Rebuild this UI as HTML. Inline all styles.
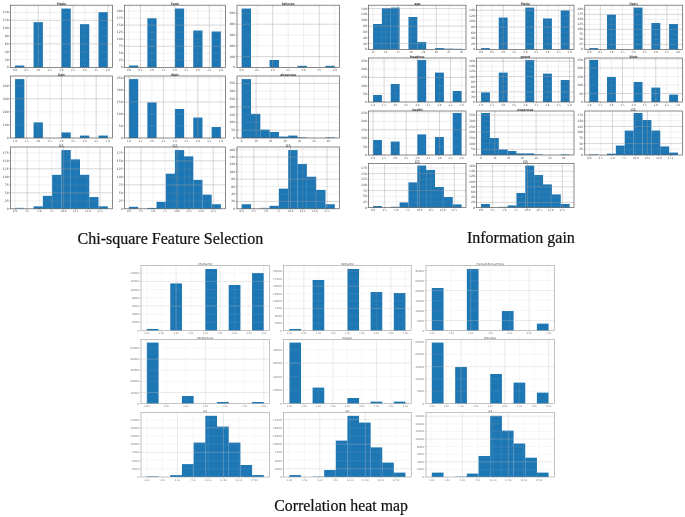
<!DOCTYPE html>
<html lang="en">
<head>
<meta charset="utf-8">
<title>Feature selection histograms</title>
<style>
html,body{margin:0;padding:0;background:#fff;}
body{width:685px;height:517px;overflow:hidden;}
svg{display:block;}
.tk{font-family:"DejaVu Sans","Liberation Sans",sans-serif;}
.tt{font-family:"DejaVu Sans","Liberation Sans",sans-serif;}
.cap{font-family:"Liberation Serif","Times New Roman",serif;font-size:16px;fill:#111;stroke:#111;stroke-width:0.22px;}
</style>
</head>
<body>
<svg width="685" height="517" viewBox="0 0 685 517">
<defs><filter id="soft" x="-2%" y="-2%" width="104%" height="104%"><feGaussianBlur stdDeviation="0.45"/></filter><filter id="softer" x="-2%" y="-2%" width="104%" height="104%"><feGaussianBlur stdDeviation="0.65"/></filter></defs>
<rect width="685" height="517" fill="#ffffff"/>
<g filter="url(#soft)" font-size="3.0" fill="#444">
<g>
<rect x="15.04" y="65.53" width="9.32" height="1.87" fill="#1f77b4"/>
<rect x="33.58" y="22.18" width="9.32" height="45.22" fill="#1f77b4"/>
<rect x="61.4" y="8.56" width="9.32" height="58.84" fill="#1f77b4"/>
<rect x="79.95" y="24.17" width="9.32" height="43.23" fill="#1f77b4"/>
<rect x="98.49" y="12.17" width="9.32" height="55.23" fill="#1f77b4"/>
<path d="M15.04 5.2V67.4M26.63 5.2V67.4M49.81 5.2V67.4M61.4 5.2V67.4M84.58 5.2V67.4M96.17 5.2V67.4M10.4 59.55H112.4M10.4 51.7H112.4M10.4 36H112.4M10.4 28.15H112.4M10.4 12.45H112.4" stroke="#9a9a9a" stroke-width="0.5" opacity="0.3" fill="none"/>
<path d="M38.22 5.2V67.4M72.99 5.2V67.4M107.76 5.2V67.4M10.4 43.85H112.4M10.4 20.3H112.4" stroke="#9a9a9a" stroke-width="0.5" opacity="0.8" fill="none"/>
<rect x="10.4" y="5.2" width="102" height="62.2" fill="none" stroke="#585858" stroke-width="0.7"/>
<path d="M15.04 67.4v1.2M26.63 67.4v1.2M38.22 67.4v1.2M49.81 67.4v1.2M61.4 67.4v1.2M72.99 67.4v1.2M84.58 67.4v1.2M96.17 67.4v1.2M107.76 67.4v1.2M10.4 67.4h-1.2M10.4 59.55h-1.2M10.4 51.7h-1.2M10.4 43.85h-1.2M10.4 36h-1.2M10.4 28.15h-1.2M10.4 20.3h-1.2M10.4 12.45h-1.2" stroke="#585858" stroke-width="0.4" fill="none"/>
<text class="tt" x="61.4" y="4.9" text-anchor="middle" font-size="3.4" fill="#222" stroke="#222" stroke-width="0.06">Medu</text>
<text class="tk" x="15.04" y="70.9" text-anchor="middle" font-size="2.55">0.0</text>
<text class="tk" x="26.63" y="70.9" text-anchor="middle" font-size="2.55">0.5</text>
<text class="tk" x="38.22" y="70.9" text-anchor="middle" font-size="2.55">1.0</text>
<text class="tk" x="49.81" y="70.9" text-anchor="middle" font-size="2.55">1.5</text>
<text class="tk" x="61.4" y="70.9" text-anchor="middle" font-size="2.55">2.0</text>
<text class="tk" x="72.99" y="70.9" text-anchor="middle" font-size="2.55">2.5</text>
<text class="tk" x="84.58" y="70.9" text-anchor="middle" font-size="2.55">3.0</text>
<text class="tk" x="96.17" y="70.9" text-anchor="middle" font-size="2.55">3.5</text>
<text class="tk" x="107.76" y="70.9" text-anchor="middle" font-size="2.55">4.0</text>
<text class="tk" x="8.6" y="68.4" text-anchor="end">0</text>
<text class="tk" x="8.6" y="60.55" text-anchor="end">20</text>
<text class="tk" x="8.6" y="52.7" text-anchor="end">40</text>
<text class="tk" x="8.6" y="44.85" text-anchor="end">60</text>
<text class="tk" x="8.6" y="37" text-anchor="end">80</text>
<text class="tk" x="8.6" y="29.15" text-anchor="end">100</text>
<text class="tk" x="8.6" y="21.3" text-anchor="end">120</text>
<text class="tk" x="8.6" y="13.45" text-anchor="end">140</text>
</g>
<g>
<rect x="128.99" y="65.53" width="9.23" height="1.87" fill="#1f77b4"/>
<rect x="147.35" y="18.26" width="9.23" height="49.14" fill="#1f77b4"/>
<rect x="174.9" y="8.56" width="9.23" height="58.84" fill="#1f77b4"/>
<rect x="193.26" y="30.52" width="9.23" height="36.88" fill="#1f77b4"/>
<rect x="211.63" y="31.51" width="9.23" height="35.89" fill="#1f77b4"/>
<path d="M128.99 5.2V67.4M151.95 5.2V67.4M163.42 5.2V67.4M186.38 5.2V67.4M197.85 5.2V67.4M220.81 5.2V67.4M124.4 60.35H225.4M124.4 53.3H225.4M124.4 39.2H225.4M124.4 32.15H225.4M124.4 18.05H225.4M124.4 11H225.4" stroke="#9a9a9a" stroke-width="0.5" opacity="0.3" fill="none"/>
<path d="M140.47 5.2V67.4M174.9 5.2V67.4M209.33 5.2V67.4M124.4 46.25H225.4M124.4 25.1H225.4" stroke="#9a9a9a" stroke-width="0.5" opacity="0.8" fill="none"/>
<rect x="124.4" y="5.2" width="101" height="62.2" fill="none" stroke="#585858" stroke-width="0.7"/>
<path d="M128.99 67.4v1.2M140.47 67.4v1.2M151.95 67.4v1.2M163.42 67.4v1.2M174.9 67.4v1.2M186.38 67.4v1.2M197.85 67.4v1.2M209.33 67.4v1.2M220.81 67.4v1.2M124.4 67.4h-1.2M124.4 60.35h-1.2M124.4 53.3h-1.2M124.4 46.25h-1.2M124.4 39.2h-1.2M124.4 32.15h-1.2M124.4 25.1h-1.2M124.4 18.05h-1.2M124.4 11h-1.2" stroke="#585858" stroke-width="0.4" fill="none"/>
<text class="tt" x="174.9" y="4.9" text-anchor="middle" font-size="3.4" fill="#222" stroke="#222" stroke-width="0.06">Fedu</text>
<text class="tk" x="128.99" y="70.9" text-anchor="middle" font-size="2.55">0.0</text>
<text class="tk" x="140.47" y="70.9" text-anchor="middle" font-size="2.55">0.5</text>
<text class="tk" x="151.95" y="70.9" text-anchor="middle" font-size="2.55">1.0</text>
<text class="tk" x="163.42" y="70.9" text-anchor="middle" font-size="2.55">1.5</text>
<text class="tk" x="174.9" y="70.9" text-anchor="middle" font-size="2.55">2.0</text>
<text class="tk" x="186.38" y="70.9" text-anchor="middle" font-size="2.55">2.5</text>
<text class="tk" x="197.85" y="70.9" text-anchor="middle" font-size="2.55">3.0</text>
<text class="tk" x="209.33" y="70.9" text-anchor="middle" font-size="2.55">3.5</text>
<text class="tk" x="220.81" y="70.9" text-anchor="middle" font-size="2.55">4.0</text>
<text class="tk" x="122.6" y="68.4" text-anchor="end">0</text>
<text class="tk" x="122.6" y="61.35" text-anchor="end">25</text>
<text class="tk" x="122.6" y="54.3" text-anchor="end">50</text>
<text class="tk" x="122.6" y="47.25" text-anchor="end">75</text>
<text class="tk" x="122.6" y="40.2" text-anchor="end">100</text>
<text class="tk" x="122.6" y="33.15" text-anchor="end">125</text>
<text class="tk" x="122.6" y="26.1" text-anchor="end">150</text>
<text class="tk" x="122.6" y="19.05" text-anchor="end">175</text>
<text class="tk" x="122.6" y="12" text-anchor="end">200</text>
</g>
<g>
<rect x="241.65" y="8.56" width="9.36" height="58.84" fill="#1f77b4"/>
<rect x="269.58" y="60" width="9.36" height="7.4" fill="#1f77b4"/>
<rect x="297.51" y="65.84" width="9.36" height="1.56" fill="#1f77b4"/>
<rect x="325.44" y="65.84" width="9.36" height="1.56" fill="#1f77b4"/>
<path d="M241.65 5.2V67.4M257.17 5.2V67.4M288.2 5.2V67.4M303.72 5.2V67.4M334.75 5.2V67.4M237 45.8H339.4M237 35H339.4M237 13.4H339.4" stroke="#9a9a9a" stroke-width="0.5" opacity="0.3" fill="none"/>
<path d="M272.68 5.2V67.4M319.23 5.2V67.4M237 56.6H339.4M237 24.2H339.4" stroke="#9a9a9a" stroke-width="0.5" opacity="0.8" fill="none"/>
<rect x="237" y="5.2" width="102.4" height="62.2" fill="none" stroke="#585858" stroke-width="0.7"/>
<path d="M241.65 67.4v1.2M257.17 67.4v1.2M272.68 67.4v1.2M288.2 67.4v1.2M303.72 67.4v1.2M319.23 67.4v1.2M334.75 67.4v1.2M237 67.4h-1.2M237 56.6h-1.2M237 45.8h-1.2M237 35h-1.2M237 24.2h-1.2M237 13.4h-1.2" stroke="#585858" stroke-width="0.4" fill="none"/>
<text class="tt" x="288.2" y="4.9" text-anchor="middle" font-size="3.4" fill="#222" stroke="#222" stroke-width="0.06">failures</text>
<text class="tk" x="241.65" y="70.9" text-anchor="middle" font-size="2.55">0.0</text>
<text class="tk" x="257.17" y="70.9" text-anchor="middle" font-size="2.55">0.5</text>
<text class="tk" x="272.68" y="70.9" text-anchor="middle" font-size="2.55">1.0</text>
<text class="tk" x="288.2" y="70.9" text-anchor="middle" font-size="2.55">1.5</text>
<text class="tk" x="303.72" y="70.9" text-anchor="middle" font-size="2.55">2.0</text>
<text class="tk" x="319.23" y="70.9" text-anchor="middle" font-size="2.55">2.5</text>
<text class="tk" x="334.75" y="70.9" text-anchor="middle" font-size="2.55">3.0</text>
<text class="tk" x="235.2" y="68.4" text-anchor="end">0</text>
<text class="tk" x="235.2" y="57.6" text-anchor="end">100</text>
<text class="tk" x="235.2" y="46.8" text-anchor="end">200</text>
<text class="tk" x="235.2" y="36" text-anchor="end">300</text>
<text class="tk" x="235.2" y="25.2" text-anchor="end">400</text>
<text class="tk" x="235.2" y="14.4" text-anchor="end">500</text>
</g>
<g>
<rect x="15.04" y="79.1" width="9.32" height="58.9" fill="#1f77b4"/>
<rect x="33.58" y="122.38" width="9.32" height="15.62" fill="#1f77b4"/>
<rect x="61.4" y="132.42" width="9.32" height="5.58" fill="#1f77b4"/>
<rect x="79.95" y="135.58" width="9.32" height="2.42" fill="#1f77b4"/>
<rect x="98.49" y="135.58" width="9.32" height="2.42" fill="#1f77b4"/>
<path d="M15.04 76V138M38.22 76V138M49.81 76V138M72.99 76V138M84.58 76V138M107.76 76V138M10.4 124.9H112.4M10.4 111.8H112.4M10.4 85.6H112.4" stroke="#9a9a9a" stroke-width="0.5" opacity="0.3" fill="none"/>
<path d="M26.63 76V138M61.4 76V138M96.17 76V138M10.4 98.7H112.4" stroke="#9a9a9a" stroke-width="0.5" opacity="0.8" fill="none"/>
<rect x="10.4" y="76" width="102" height="62" fill="none" stroke="#585858" stroke-width="0.7"/>
<path d="M15.04 138v1.2M26.63 138v1.2M38.22 138v1.2M49.81 138v1.2M61.4 138v1.2M72.99 138v1.2M84.58 138v1.2M96.17 138v1.2M107.76 138v1.2M10.4 138h-1.2M10.4 124.9h-1.2M10.4 111.8h-1.2M10.4 98.7h-1.2M10.4 85.6h-1.2" stroke="#585858" stroke-width="0.4" fill="none"/>
<text class="tt" x="61.4" y="75.7" text-anchor="middle" font-size="3.4" fill="#222" stroke="#222" stroke-width="0.06">Dalc</text>
<text class="tk" x="15.04" y="141.5" text-anchor="middle" font-size="2.55">1.0</text>
<text class="tk" x="26.63" y="141.5" text-anchor="middle" font-size="2.55">1.5</text>
<text class="tk" x="38.22" y="141.5" text-anchor="middle" font-size="2.55">2.0</text>
<text class="tk" x="49.81" y="141.5" text-anchor="middle" font-size="2.55">2.5</text>
<text class="tk" x="61.4" y="141.5" text-anchor="middle" font-size="2.55">3.0</text>
<text class="tk" x="72.99" y="141.5" text-anchor="middle" font-size="2.55">3.5</text>
<text class="tk" x="84.58" y="141.5" text-anchor="middle" font-size="2.55">4.0</text>
<text class="tk" x="96.17" y="141.5" text-anchor="middle" font-size="2.55">4.5</text>
<text class="tk" x="107.76" y="141.5" text-anchor="middle" font-size="2.55">5.0</text>
<text class="tk" x="8.6" y="139" text-anchor="end">0</text>
<text class="tk" x="8.6" y="125.9" text-anchor="end">100</text>
<text class="tk" x="8.6" y="112.8" text-anchor="end">200</text>
<text class="tk" x="8.6" y="99.7" text-anchor="end">300</text>
<text class="tk" x="8.6" y="86.6" text-anchor="end">400</text>
</g>
<g>
<rect x="128.99" y="79.1" width="9.23" height="58.9" fill="#1f77b4"/>
<rect x="147.35" y="102.41" width="9.23" height="35.59" fill="#1f77b4"/>
<rect x="174.9" y="108.98" width="9.23" height="29.02" fill="#1f77b4"/>
<rect x="193.26" y="117.54" width="9.23" height="20.46" fill="#1f77b4"/>
<rect x="211.63" y="127.03" width="9.23" height="10.97" fill="#1f77b4"/>
<path d="M140.47 76V138M151.95 76V138M174.9 76V138M186.38 76V138M209.33 76V138M220.81 76V138M124.4 126H225.4M124.4 114H225.4M124.4 90H225.4M124.4 78H225.4" stroke="#9a9a9a" stroke-width="0.5" opacity="0.3" fill="none"/>
<path d="M128.99 76V138M163.42 76V138M197.85 76V138M124.4 102H225.4" stroke="#9a9a9a" stroke-width="0.5" opacity="0.8" fill="none"/>
<rect x="124.4" y="76" width="101" height="62" fill="none" stroke="#585858" stroke-width="0.7"/>
<path d="M128.99 138v1.2M140.47 138v1.2M151.95 138v1.2M163.42 138v1.2M174.9 138v1.2M186.38 138v1.2M197.85 138v1.2M209.33 138v1.2M220.81 138v1.2M124.4 138h-1.2M124.4 126h-1.2M124.4 114h-1.2M124.4 102h-1.2M124.4 90h-1.2M124.4 78h-1.2" stroke="#585858" stroke-width="0.4" fill="none"/>
<text class="tt" x="174.9" y="75.7" text-anchor="middle" font-size="3.4" fill="#222" stroke="#222" stroke-width="0.06">Walc</text>
<text class="tk" x="128.99" y="141.5" text-anchor="middle" font-size="2.55">1.0</text>
<text class="tk" x="140.47" y="141.5" text-anchor="middle" font-size="2.55">1.5</text>
<text class="tk" x="151.95" y="141.5" text-anchor="middle" font-size="2.55">2.0</text>
<text class="tk" x="163.42" y="141.5" text-anchor="middle" font-size="2.55">2.5</text>
<text class="tk" x="174.9" y="141.5" text-anchor="middle" font-size="2.55">3.0</text>
<text class="tk" x="186.38" y="141.5" text-anchor="middle" font-size="2.55">3.5</text>
<text class="tk" x="197.85" y="141.5" text-anchor="middle" font-size="2.55">4.0</text>
<text class="tk" x="209.33" y="141.5" text-anchor="middle" font-size="2.55">4.5</text>
<text class="tk" x="220.81" y="141.5" text-anchor="middle" font-size="2.55">5.0</text>
<text class="tk" x="122.6" y="139" text-anchor="end">0</text>
<text class="tk" x="122.6" y="127" text-anchor="end">50</text>
<text class="tk" x="122.6" y="115" text-anchor="end">100</text>
<text class="tk" x="122.6" y="103" text-anchor="end">150</text>
<text class="tk" x="122.6" y="91" text-anchor="end">200</text>
<text class="tk" x="122.6" y="79" text-anchor="end">250</text>
</g>
<g>
<rect x="241.65" y="79.1" width="9.36" height="58.9" fill="#1f77b4"/>
<rect x="250.96" y="113.82" width="9.36" height="24.18" fill="#1f77b4"/>
<rect x="260.27" y="129.63" width="9.36" height="8.37" fill="#1f77b4"/>
<rect x="269.58" y="131.99" width="9.36" height="6.01" fill="#1f77b4"/>
<rect x="278.89" y="136.57" width="9.36" height="1.43" fill="#1f77b4"/>
<rect x="288.2" y="135.58" width="9.36" height="2.42" fill="#1f77b4"/>
<rect x="297.51" y="137" width="9.31" height="0.9" fill="#1f77b4" opacity="0.6"/>
<rect x="325.44" y="137" width="9.31" height="0.9" fill="#1f77b4" opacity="0.6"/>
<path d="M241.65 76V138M270.58 76V138M285.04 76V138M313.96 76V138M328.42 76V138M237 122.4H339.4M237 114.6H339.4M237 99H339.4M237 91.2H339.4" stroke="#9a9a9a" stroke-width="0.5" opacity="0.3" fill="none"/>
<path d="M256.12 76V138M299.5 76V138M237 130.2H339.4M237 106.8H339.4M237 83.4H339.4" stroke="#9a9a9a" stroke-width="0.5" opacity="0.8" fill="none"/>
<rect x="237" y="76" width="102.4" height="62" fill="none" stroke="#585858" stroke-width="0.7"/>
<path d="M241.65 138v1.2M256.12 138v1.2M270.58 138v1.2M285.04 138v1.2M299.5 138v1.2M313.96 138v1.2M328.42 138v1.2M237 138h-1.2M237 130.2h-1.2M237 122.4h-1.2M237 114.6h-1.2M237 106.8h-1.2M237 99h-1.2M237 91.2h-1.2M237 83.4h-1.2" stroke="#585858" stroke-width="0.4" fill="none"/>
<text class="tt" x="288.2" y="75.7" text-anchor="middle" font-size="3.4" fill="#222" stroke="#222" stroke-width="0.06">absences</text>
<text class="tk" x="241.65" y="141.5" text-anchor="middle" font-size="2.55">0</text>
<text class="tk" x="256.12" y="141.5" text-anchor="middle" font-size="2.55">10</text>
<text class="tk" x="270.58" y="141.5" text-anchor="middle" font-size="2.55">20</text>
<text class="tk" x="285.04" y="141.5" text-anchor="middle" font-size="2.55">30</text>
<text class="tk" x="299.5" y="141.5" text-anchor="middle" font-size="2.55">40</text>
<text class="tk" x="313.96" y="141.5" text-anchor="middle" font-size="2.55">50</text>
<text class="tk" x="328.42" y="141.5" text-anchor="middle" font-size="2.55">60</text>
<text class="tk" x="235.2" y="139" text-anchor="end">0</text>
<text class="tk" x="235.2" y="131.2" text-anchor="end">50</text>
<text class="tk" x="235.2" y="123.4" text-anchor="end">100</text>
<text class="tk" x="235.2" y="115.6" text-anchor="end">150</text>
<text class="tk" x="235.2" y="107.8" text-anchor="end">200</text>
<text class="tk" x="235.2" y="100" text-anchor="end">250</text>
<text class="tk" x="235.2" y="92.2" text-anchor="end">300</text>
<text class="tk" x="235.2" y="84.4" text-anchor="end">350</text>
</g>
<g>
<rect x="15.04" y="207.8" width="9.27" height="0.9" fill="#1f77b4" opacity="0.6"/>
<rect x="33.58" y="206.33" width="9.32" height="2.47" fill="#1f77b4"/>
<rect x="42.85" y="195.82" width="9.32" height="12.98" fill="#1f77b4"/>
<rect x="52.13" y="174.81" width="9.32" height="33.99" fill="#1f77b4"/>
<rect x="61.4" y="150.09" width="9.32" height="58.71" fill="#1f77b4"/>
<rect x="70.67" y="159.36" width="9.32" height="49.44" fill="#1f77b4"/>
<rect x="79.95" y="174.81" width="9.32" height="33.99" fill="#1f77b4"/>
<rect x="89.22" y="197.06" width="9.32" height="11.74" fill="#1f77b4"/>
<rect x="98.49" y="206.33" width="9.32" height="2.47" fill="#1f77b4"/>
<path d="M15.04 147V208.8M39.34 147V208.8M51.5 147V208.8M75.8 147V208.8M87.96 147V208.8M10.4 200.8H112.4M10.4 184.8H112.4M10.4 176.8H112.4M10.4 160.8H112.4M10.4 152.8H112.4" stroke="#9a9a9a" stroke-width="0.5" opacity="0.3" fill="none"/>
<path d="M27.19 147V208.8M63.65 147V208.8M100.11 147V208.8M10.4 192.8H112.4M10.4 168.8H112.4" stroke="#9a9a9a" stroke-width="0.5" opacity="0.8" fill="none"/>
<rect x="10.4" y="147" width="102" height="61.8" fill="none" stroke="#585858" stroke-width="0.7"/>
<path d="M15.04 208.8v1.2M27.19 208.8v1.2M39.34 208.8v1.2M51.5 208.8v1.2M63.65 208.8v1.2M75.8 208.8v1.2M87.96 208.8v1.2M100.11 208.8v1.2M10.4 208.8h-1.2M10.4 200.8h-1.2M10.4 192.8h-1.2M10.4 184.8h-1.2M10.4 176.8h-1.2M10.4 168.8h-1.2M10.4 160.8h-1.2M10.4 152.8h-1.2" stroke="#585858" stroke-width="0.4" fill="none"/>
<text class="tt" x="61.4" y="146.7" text-anchor="middle" font-size="3.4" fill="#222" stroke="#222" stroke-width="0.06">G1</text>
<text class="tk" x="15.04" y="212.3" text-anchor="middle" font-size="2.55">0.0</text>
<text class="tk" x="27.19" y="212.3" text-anchor="middle" font-size="2.55">2.5</text>
<text class="tk" x="39.34" y="212.3" text-anchor="middle" font-size="2.55">5.0</text>
<text class="tk" x="51.5" y="212.3" text-anchor="middle" font-size="2.55">7.5</text>
<text class="tk" x="63.65" y="212.3" text-anchor="middle" font-size="2.55">10.0</text>
<text class="tk" x="75.8" y="212.3" text-anchor="middle" font-size="2.55">12.5</text>
<text class="tk" x="87.96" y="212.3" text-anchor="middle" font-size="2.55">15.0</text>
<text class="tk" x="100.11" y="212.3" text-anchor="middle" font-size="2.55">17.5</text>
<text class="tk" x="8.6" y="209.8" text-anchor="end">0</text>
<text class="tk" x="8.6" y="201.8" text-anchor="end">25</text>
<text class="tk" x="8.6" y="193.8" text-anchor="end">50</text>
<text class="tk" x="8.6" y="185.8" text-anchor="end">75</text>
<text class="tk" x="8.6" y="177.8" text-anchor="end">100</text>
<text class="tk" x="8.6" y="169.8" text-anchor="end">125</text>
<text class="tk" x="8.6" y="161.8" text-anchor="end">150</text>
<text class="tk" x="8.6" y="153.8" text-anchor="end">175</text>
</g>
<g>
<rect x="128.99" y="206.82" width="9.23" height="1.98" fill="#1f77b4"/>
<rect x="147.35" y="207.93" width="9.23" height="0.87" fill="#1f77b4"/>
<rect x="156.54" y="201.82" width="9.23" height="6.98" fill="#1f77b4"/>
<rect x="165.72" y="173.7" width="9.23" height="35.1" fill="#1f77b4"/>
<rect x="174.9" y="150.09" width="9.23" height="58.71" fill="#1f77b4"/>
<rect x="184.08" y="156.39" width="9.23" height="52.41" fill="#1f77b4"/>
<rect x="193.26" y="179.88" width="9.23" height="28.92" fill="#1f77b4"/>
<rect x="202.45" y="194.65" width="9.23" height="14.15" fill="#1f77b4"/>
<rect x="211.63" y="204.23" width="9.23" height="4.57" fill="#1f77b4"/>
<path d="M128.99 147V208.8M153.06 147V208.8M165.09 147V208.8M189.16 147V208.8M201.2 147V208.8M124.4 200.8H225.4M124.4 192.8H225.4M124.4 176.8H225.4M124.4 168.8H225.4M124.4 152.8H225.4" stroke="#9a9a9a" stroke-width="0.5" opacity="0.3" fill="none"/>
<path d="M141.03 147V208.8M177.13 147V208.8M213.23 147V208.8M124.4 184.8H225.4M124.4 160.8H225.4" stroke="#9a9a9a" stroke-width="0.5" opacity="0.8" fill="none"/>
<rect x="124.4" y="147" width="101" height="61.8" fill="none" stroke="#585858" stroke-width="0.7"/>
<path d="M128.99 208.8v1.2M141.03 208.8v1.2M153.06 208.8v1.2M165.09 208.8v1.2M177.13 208.8v1.2M189.16 208.8v1.2M201.2 208.8v1.2M213.23 208.8v1.2M124.4 208.8h-1.2M124.4 200.8h-1.2M124.4 192.8h-1.2M124.4 184.8h-1.2M124.4 176.8h-1.2M124.4 168.8h-1.2M124.4 160.8h-1.2M124.4 152.8h-1.2" stroke="#585858" stroke-width="0.4" fill="none"/>
<text class="tt" x="174.9" y="146.7" text-anchor="middle" font-size="3.4" fill="#222" stroke="#222" stroke-width="0.06">G2</text>
<text class="tk" x="128.99" y="212.3" text-anchor="middle" font-size="2.55">0.0</text>
<text class="tk" x="141.03" y="212.3" text-anchor="middle" font-size="2.55">2.5</text>
<text class="tk" x="153.06" y="212.3" text-anchor="middle" font-size="2.55">5.0</text>
<text class="tk" x="165.09" y="212.3" text-anchor="middle" font-size="2.55">7.5</text>
<text class="tk" x="177.13" y="212.3" text-anchor="middle" font-size="2.55">10.0</text>
<text class="tk" x="189.16" y="212.3" text-anchor="middle" font-size="2.55">12.5</text>
<text class="tk" x="201.2" y="212.3" text-anchor="middle" font-size="2.55">15.0</text>
<text class="tk" x="213.23" y="212.3" text-anchor="middle" font-size="2.55">17.5</text>
<text class="tk" x="122.6" y="209.8" text-anchor="end">0</text>
<text class="tk" x="122.6" y="201.8" text-anchor="end">25</text>
<text class="tk" x="122.6" y="193.8" text-anchor="end">50</text>
<text class="tk" x="122.6" y="185.8" text-anchor="end">75</text>
<text class="tk" x="122.6" y="177.8" text-anchor="end">100</text>
<text class="tk" x="122.6" y="169.8" text-anchor="end">125</text>
<text class="tk" x="122.6" y="161.8" text-anchor="end">150</text>
<text class="tk" x="122.6" y="153.8" text-anchor="end">175</text>
</g>
<g>
<rect x="241.65" y="204.23" width="9.36" height="4.57" fill="#1f77b4"/>
<rect x="260.27" y="207.8" width="9.31" height="0.9" fill="#1f77b4" opacity="0.6"/>
<rect x="269.58" y="205.83" width="9.36" height="2.97" fill="#1f77b4"/>
<rect x="278.89" y="188.65" width="9.36" height="20.15" fill="#1f77b4"/>
<rect x="288.2" y="150.09" width="9.36" height="58.71" fill="#1f77b4"/>
<rect x="297.51" y="163.93" width="9.36" height="44.87" fill="#1f77b4"/>
<rect x="306.82" y="176.73" width="9.36" height="32.07" fill="#1f77b4"/>
<rect x="316.13" y="189.89" width="9.36" height="18.91" fill="#1f77b4"/>
<rect x="325.44" y="204.23" width="9.36" height="4.57" fill="#1f77b4"/>
<path d="M241.65 147V208.8M266.06 147V208.8M278.26 147V208.8M302.66 147V208.8M314.86 147V208.8M237 194H339.4M237 186.6H339.4M237 171.8H339.4M237 164.4H339.4M237 149.6H339.4" stroke="#9a9a9a" stroke-width="0.5" opacity="0.3" fill="none"/>
<path d="M253.86 147V208.8M290.46 147V208.8M327.06 147V208.8M237 201.4H339.4M237 179.2H339.4M237 157H339.4" stroke="#9a9a9a" stroke-width="0.5" opacity="0.8" fill="none"/>
<rect x="237" y="147" width="102.4" height="61.8" fill="none" stroke="#585858" stroke-width="0.7"/>
<path d="M241.65 208.8v1.2M253.86 208.8v1.2M266.06 208.8v1.2M278.26 208.8v1.2M290.46 208.8v1.2M302.66 208.8v1.2M314.86 208.8v1.2M327.06 208.8v1.2M237 208.8h-1.2M237 201.4h-1.2M237 194h-1.2M237 186.6h-1.2M237 179.2h-1.2M237 171.8h-1.2M237 164.4h-1.2M237 157h-1.2M237 149.6h-1.2" stroke="#585858" stroke-width="0.4" fill="none"/>
<text class="tt" x="288.2" y="146.7" text-anchor="middle" font-size="3.4" fill="#222" stroke="#222" stroke-width="0.06">G3</text>
<text class="tk" x="241.65" y="212.3" text-anchor="middle" font-size="2.55">0.0</text>
<text class="tk" x="253.86" y="212.3" text-anchor="middle" font-size="2.55">2.5</text>
<text class="tk" x="266.06" y="212.3" text-anchor="middle" font-size="2.55">5.0</text>
<text class="tk" x="278.26" y="212.3" text-anchor="middle" font-size="2.55">7.5</text>
<text class="tk" x="290.46" y="212.3" text-anchor="middle" font-size="2.55">10.0</text>
<text class="tk" x="302.66" y="212.3" text-anchor="middle" font-size="2.55">12.5</text>
<text class="tk" x="314.86" y="212.3" text-anchor="middle" font-size="2.55">15.0</text>
<text class="tk" x="327.06" y="212.3" text-anchor="middle" font-size="2.55">17.5</text>
<text class="tk" x="235.2" y="209.8" text-anchor="end">0</text>
<text class="tk" x="235.2" y="202.4" text-anchor="end">20</text>
<text class="tk" x="235.2" y="195" text-anchor="end">40</text>
<text class="tk" x="235.2" y="187.6" text-anchor="end">60</text>
<text class="tk" x="235.2" y="180.2" text-anchor="end">80</text>
<text class="tk" x="235.2" y="172.8" text-anchor="end">100</text>
<text class="tk" x="235.2" y="165.4" text-anchor="end">120</text>
<text class="tk" x="235.2" y="158" text-anchor="end">140</text>
<text class="tk" x="235.2" y="150.6" text-anchor="end">160</text>
</g>
</g>
<g filter="url(#soft)" font-size="3.0" fill="#444">
<g>
<rect x="373.03" y="23.99" width="8.9" height="25.41" fill="#1f77b4"/>
<rect x="381.88" y="8.21" width="8.9" height="41.19" fill="#1f77b4"/>
<rect x="390.74" y="7.59" width="8.9" height="41.81" fill="#1f77b4"/>
<rect x="408.45" y="17" width="8.9" height="32.4" fill="#1f77b4"/>
<rect x="417.3" y="42.02" width="8.9" height="7.38" fill="#1f77b4"/>
<rect x="435.01" y="48.07" width="8.9" height="1.33" fill="#1f77b4"/>
<rect x="443.86" y="48.4" width="8.85" height="0.9" fill="#1f77b4" opacity="0.6"/>
<rect x="452.72" y="48.4" width="8.85" height="0.9" fill="#1f77b4" opacity="0.35"/>
<path d="M373.03 5.2V49.4M385.68 5.2V49.4M410.98 5.2V49.4M423.62 5.2V49.4M448.92 5.2V49.4M461.57 5.2V49.4M368.6 37.74H466M368.6 31.91H466M368.6 20.25H466M368.6 14.42H466" stroke="#9a9a9a" stroke-width="0.5" opacity="0.3" fill="none"/>
<path d="M398.33 5.2V49.4M436.27 5.2V49.4M368.6 43.57H466M368.6 26.08H466M368.6 8.59H466" stroke="#9a9a9a" stroke-width="0.5" opacity="0.8" fill="none"/>
<rect x="368.6" y="5.2" width="97.4" height="44.2" fill="none" stroke="#585858" stroke-width="0.7"/>
<path d="M373.03 49.4v1.2M385.68 49.4v1.2M398.33 49.4v1.2M410.98 49.4v1.2M423.62 49.4v1.2M436.27 49.4v1.2M448.92 49.4v1.2M461.57 49.4v1.2M368.6 49.4h-1.2M368.6 43.57h-1.2M368.6 37.74h-1.2M368.6 31.91h-1.2M368.6 26.08h-1.2M368.6 20.25h-1.2M368.6 14.42h-1.2M368.6 8.59h-1.2" stroke="#585858" stroke-width="0.4" fill="none"/>
<text class="tt" x="417.3" y="4.9" text-anchor="middle" font-size="3.4" fill="#222" stroke="#222" stroke-width="0.06">age</text>
<text class="tk" x="373.03" y="52.9" text-anchor="middle" font-size="2.55">15</text>
<text class="tk" x="385.68" y="52.9" text-anchor="middle" font-size="2.55">16</text>
<text class="tk" x="398.33" y="52.9" text-anchor="middle" font-size="2.55">17</text>
<text class="tk" x="410.98" y="52.9" text-anchor="middle" font-size="2.55">18</text>
<text class="tk" x="423.62" y="52.9" text-anchor="middle" font-size="2.55">19</text>
<text class="tk" x="436.27" y="52.9" text-anchor="middle" font-size="2.55">20</text>
<text class="tk" x="448.92" y="52.9" text-anchor="middle" font-size="2.55">21</text>
<text class="tk" x="461.57" y="52.9" text-anchor="middle" font-size="2.55">22</text>
<text class="tk" x="366.8" y="50.4" text-anchor="end">0</text>
<text class="tk" x="366.8" y="44.57" text-anchor="end">20</text>
<text class="tk" x="366.8" y="38.74" text-anchor="end">40</text>
<text class="tk" x="366.8" y="32.91" text-anchor="end">60</text>
<text class="tk" x="366.8" y="27.08" text-anchor="end">80</text>
<text class="tk" x="366.8" y="21.25" text-anchor="end">100</text>
<text class="tk" x="366.8" y="15.42" text-anchor="end">120</text>
<text class="tk" x="366.8" y="9.59" text-anchor="end">140</text>
</g>
<g>
<rect x="481.03" y="48.07" width="8.9" height="1.33" fill="#1f77b4"/>
<rect x="498.74" y="17.58" width="8.9" height="31.82" fill="#1f77b4"/>
<rect x="525.3" y="7.59" width="8.9" height="41.81" fill="#1f77b4"/>
<rect x="543.01" y="18.46" width="8.9" height="30.94" fill="#1f77b4"/>
<rect x="560.72" y="10.42" width="8.9" height="38.98" fill="#1f77b4"/>
<path d="M481.03 5.2V49.4M492.1 5.2V49.4M514.23 5.2V49.4M525.3 5.2V49.4M547.44 5.2V49.4M558.5 5.2V49.4M476.6 38.2H574M476.6 32.6H574M476.6 21.4H574M476.6 15.8H574" stroke="#9a9a9a" stroke-width="0.5" opacity="0.3" fill="none"/>
<path d="M503.16 5.2V49.4M536.37 5.2V49.4M569.57 5.2V49.4M476.6 43.8H574M476.6 27H574M476.6 10.2H574" stroke="#9a9a9a" stroke-width="0.5" opacity="0.8" fill="none"/>
<rect x="476.6" y="5.2" width="97.4" height="44.2" fill="none" stroke="#585858" stroke-width="0.7"/>
<path d="M481.03 49.4v1.2M492.1 49.4v1.2M503.16 49.4v1.2M514.23 49.4v1.2M525.3 49.4v1.2M536.37 49.4v1.2M547.44 49.4v1.2M558.5 49.4v1.2M569.57 49.4v1.2M476.6 49.4h-1.2M476.6 43.8h-1.2M476.6 38.2h-1.2M476.6 32.6h-1.2M476.6 27h-1.2M476.6 21.4h-1.2M476.6 15.8h-1.2M476.6 10.2h-1.2" stroke="#585858" stroke-width="0.4" fill="none"/>
<text class="tt" x="525.3" y="4.9" text-anchor="middle" font-size="3.4" fill="#222" stroke="#222" stroke-width="0.06">Medu</text>
<text class="tk" x="481.03" y="52.9" text-anchor="middle" font-size="2.55">0.0</text>
<text class="tk" x="492.1" y="52.9" text-anchor="middle" font-size="2.55">0.5</text>
<text class="tk" x="503.16" y="52.9" text-anchor="middle" font-size="2.55">1.0</text>
<text class="tk" x="514.23" y="52.9" text-anchor="middle" font-size="2.55">1.5</text>
<text class="tk" x="525.3" y="52.9" text-anchor="middle" font-size="2.55">2.0</text>
<text class="tk" x="536.37" y="52.9" text-anchor="middle" font-size="2.55">2.5</text>
<text class="tk" x="547.44" y="52.9" text-anchor="middle" font-size="2.55">3.0</text>
<text class="tk" x="558.5" y="52.9" text-anchor="middle" font-size="2.55">3.5</text>
<text class="tk" x="569.57" y="52.9" text-anchor="middle" font-size="2.55">4.0</text>
<text class="tk" x="474.8" y="50.4" text-anchor="end">0</text>
<text class="tk" x="474.8" y="44.8" text-anchor="end">20</text>
<text class="tk" x="474.8" y="39.2" text-anchor="end">40</text>
<text class="tk" x="474.8" y="33.6" text-anchor="end">60</text>
<text class="tk" x="474.8" y="28" text-anchor="end">80</text>
<text class="tk" x="474.8" y="22.4" text-anchor="end">100</text>
<text class="tk" x="474.8" y="16.8" text-anchor="end">120</text>
<text class="tk" x="474.8" y="11.2" text-anchor="end">140</text>
</g>
<g>
<rect x="589.24" y="48.07" width="8.92" height="1.33" fill="#1f77b4"/>
<rect x="606.98" y="14.61" width="8.92" height="34.79" fill="#1f77b4"/>
<rect x="633.6" y="7.59" width="8.92" height="41.81" fill="#1f77b4"/>
<rect x="651.35" y="23.01" width="8.92" height="26.39" fill="#1f77b4"/>
<rect x="669.09" y="23.99" width="8.92" height="25.41" fill="#1f77b4"/>
<path d="M589.24 5.2V49.4M611.42 5.2V49.4M622.51 5.2V49.4M644.69 5.2V49.4M655.78 5.2V49.4M677.96 5.2V49.4M584.8 39.4H682.4M584.8 34.4H682.4M584.8 24.4H682.4M584.8 19.4H682.4M584.8 9.4H682.4" stroke="#9a9a9a" stroke-width="0.5" opacity="0.3" fill="none"/>
<path d="M600.33 5.2V49.4M633.6 5.2V49.4M666.87 5.2V49.4M584.8 44.4H682.4M584.8 29.4H682.4M584.8 14.4H682.4" stroke="#9a9a9a" stroke-width="0.5" opacity="0.8" fill="none"/>
<rect x="584.8" y="5.2" width="97.6" height="44.2" fill="none" stroke="#585858" stroke-width="0.7"/>
<path d="M589.24 49.4v1.2M600.33 49.4v1.2M611.42 49.4v1.2M622.51 49.4v1.2M633.6 49.4v1.2M644.69 49.4v1.2M655.78 49.4v1.2M666.87 49.4v1.2M677.96 49.4v1.2M584.8 49.4h-1.2M584.8 44.4h-1.2M584.8 39.4h-1.2M584.8 34.4h-1.2M584.8 29.4h-1.2M584.8 24.4h-1.2M584.8 19.4h-1.2M584.8 14.4h-1.2M584.8 9.4h-1.2" stroke="#585858" stroke-width="0.4" fill="none"/>
<text class="tt" x="633.6" y="4.9" text-anchor="middle" font-size="3.4" fill="#222" stroke="#222" stroke-width="0.06">Fedu</text>
<text class="tk" x="589.24" y="52.9" text-anchor="middle" font-size="2.55">0.0</text>
<text class="tk" x="600.33" y="52.9" text-anchor="middle" font-size="2.55">0.5</text>
<text class="tk" x="611.42" y="52.9" text-anchor="middle" font-size="2.55">1.0</text>
<text class="tk" x="622.51" y="52.9" text-anchor="middle" font-size="2.55">1.5</text>
<text class="tk" x="633.6" y="52.9" text-anchor="middle" font-size="2.55">2.0</text>
<text class="tk" x="644.69" y="52.9" text-anchor="middle" font-size="2.55">2.5</text>
<text class="tk" x="655.78" y="52.9" text-anchor="middle" font-size="2.55">3.0</text>
<text class="tk" x="666.87" y="52.9" text-anchor="middle" font-size="2.55">3.5</text>
<text class="tk" x="677.96" y="52.9" text-anchor="middle" font-size="2.55">4.0</text>
<text class="tk" x="583" y="50.4" text-anchor="end">0</text>
<text class="tk" x="583" y="45.4" text-anchor="end">25</text>
<text class="tk" x="583" y="40.4" text-anchor="end">50</text>
<text class="tk" x="583" y="35.4" text-anchor="end">75</text>
<text class="tk" x="583" y="30.4" text-anchor="end">100</text>
<text class="tk" x="583" y="25.4" text-anchor="end">125</text>
<text class="tk" x="583" y="20.4" text-anchor="end">150</text>
<text class="tk" x="583" y="15.4" text-anchor="end">175</text>
<text class="tk" x="583" y="10.4" text-anchor="end">200</text>
</g>
<g>
<rect x="373.03" y="95" width="8.9" height="7" fill="#1f77b4"/>
<rect x="390.74" y="84" width="8.9" height="18" fill="#1f77b4"/>
<rect x="417.3" y="59.98" width="8.9" height="42.02" fill="#1f77b4"/>
<rect x="435.01" y="72.61" width="8.9" height="29.39" fill="#1f77b4"/>
<rect x="452.72" y="91" width="8.9" height="11" fill="#1f77b4"/>
<path d="M373.03 58V102M395.16 58V102M406.23 58V102M428.37 58V102M439.44 58V102M461.57 58V102M368.6 93.8H466M368.6 85.6H466M368.6 69.2H466M368.6 61H466" stroke="#9a9a9a" stroke-width="0.5" opacity="0.3" fill="none"/>
<path d="M384.1 58V102M417.3 58V102M450.5 58V102M368.6 77.4H466" stroke="#9a9a9a" stroke-width="0.5" opacity="0.8" fill="none"/>
<rect x="368.6" y="58" width="97.4" height="44" fill="none" stroke="#585858" stroke-width="0.7"/>
<path d="M373.03 102v1.2M384.1 102v1.2M395.16 102v1.2M406.23 102v1.2M417.3 102v1.2M428.37 102v1.2M439.44 102v1.2M450.5 102v1.2M461.57 102v1.2M368.6 102h-1.2M368.6 93.8h-1.2M368.6 85.6h-1.2M368.6 77.4h-1.2M368.6 69.2h-1.2M368.6 61h-1.2" stroke="#585858" stroke-width="0.4" fill="none"/>
<text class="tt" x="417.3" y="57.7" text-anchor="middle" font-size="3.4" fill="#222" stroke="#222" stroke-width="0.06">freetime</text>
<text class="tk" x="373.03" y="105.5" text-anchor="middle" font-size="2.55">1.0</text>
<text class="tk" x="384.1" y="105.5" text-anchor="middle" font-size="2.55">1.5</text>
<text class="tk" x="395.16" y="105.5" text-anchor="middle" font-size="2.55">2.0</text>
<text class="tk" x="406.23" y="105.5" text-anchor="middle" font-size="2.55">2.5</text>
<text class="tk" x="417.3" y="105.5" text-anchor="middle" font-size="2.55">3.0</text>
<text class="tk" x="428.37" y="105.5" text-anchor="middle" font-size="2.55">3.5</text>
<text class="tk" x="439.44" y="105.5" text-anchor="middle" font-size="2.55">4.0</text>
<text class="tk" x="450.5" y="105.5" text-anchor="middle" font-size="2.55">4.5</text>
<text class="tk" x="461.57" y="105.5" text-anchor="middle" font-size="2.55">5.0</text>
<text class="tk" x="366.8" y="103" text-anchor="end">0</text>
<text class="tk" x="366.8" y="94.8" text-anchor="end">50</text>
<text class="tk" x="366.8" y="86.6" text-anchor="end">100</text>
<text class="tk" x="366.8" y="78.4" text-anchor="end">150</text>
<text class="tk" x="366.8" y="70.2" text-anchor="end">200</text>
<text class="tk" x="366.8" y="62" text-anchor="end">250</text>
</g>
<g>
<rect x="481.03" y="92.41" width="8.9" height="9.59" fill="#1f77b4"/>
<rect x="498.74" y="72.61" width="8.9" height="29.39" fill="#1f77b4"/>
<rect x="525.3" y="59.98" width="8.9" height="42.02" fill="#1f77b4"/>
<rect x="543.01" y="73.62" width="8.9" height="28.38" fill="#1f77b4"/>
<rect x="560.72" y="80" width="8.9" height="22" fill="#1f77b4"/>
<path d="M481.03 58V102M492.1 58V102M514.23 58V102M525.3 58V102M547.44 58V102M558.5 58V102M476.6 96.9H574M476.6 86.7H574M476.6 81.6H574M476.6 71.4H574M476.6 66.3H574" stroke="#9a9a9a" stroke-width="0.5" opacity="0.3" fill="none"/>
<path d="M503.16 58V102M536.37 58V102M569.57 58V102M476.6 91.8H574M476.6 76.5H574M476.6 61.2H574" stroke="#9a9a9a" stroke-width="0.5" opacity="0.8" fill="none"/>
<rect x="476.6" y="58" width="97.4" height="44" fill="none" stroke="#585858" stroke-width="0.7"/>
<path d="M481.03 102v1.2M492.1 102v1.2M503.16 102v1.2M514.23 102v1.2M525.3 102v1.2M536.37 102v1.2M547.44 102v1.2M558.5 102v1.2M569.57 102v1.2M476.6 102h-1.2M476.6 96.9h-1.2M476.6 91.8h-1.2M476.6 86.7h-1.2M476.6 81.6h-1.2M476.6 76.5h-1.2M476.6 71.4h-1.2M476.6 66.3h-1.2M476.6 61.2h-1.2" stroke="#585858" stroke-width="0.4" fill="none"/>
<text class="tt" x="525.3" y="57.7" text-anchor="middle" font-size="3.4" fill="#222" stroke="#222" stroke-width="0.06">goout</text>
<text class="tk" x="481.03" y="105.5" text-anchor="middle" font-size="2.55">1.0</text>
<text class="tk" x="492.1" y="105.5" text-anchor="middle" font-size="2.55">1.5</text>
<text class="tk" x="503.16" y="105.5" text-anchor="middle" font-size="2.55">2.0</text>
<text class="tk" x="514.23" y="105.5" text-anchor="middle" font-size="2.55">2.5</text>
<text class="tk" x="525.3" y="105.5" text-anchor="middle" font-size="2.55">3.0</text>
<text class="tk" x="536.37" y="105.5" text-anchor="middle" font-size="2.55">3.5</text>
<text class="tk" x="547.44" y="105.5" text-anchor="middle" font-size="2.55">4.0</text>
<text class="tk" x="558.5" y="105.5" text-anchor="middle" font-size="2.55">4.5</text>
<text class="tk" x="569.57" y="105.5" text-anchor="middle" font-size="2.55">5.0</text>
<text class="tk" x="474.8" y="103" text-anchor="end">0</text>
<text class="tk" x="474.8" y="97.9" text-anchor="end">20</text>
<text class="tk" x="474.8" y="92.8" text-anchor="end">40</text>
<text class="tk" x="474.8" y="87.7" text-anchor="end">60</text>
<text class="tk" x="474.8" y="82.6" text-anchor="end">80</text>
<text class="tk" x="474.8" y="77.5" text-anchor="end">100</text>
<text class="tk" x="474.8" y="72.4" text-anchor="end">120</text>
<text class="tk" x="474.8" y="67.3" text-anchor="end">140</text>
<text class="tk" x="474.8" y="62.2" text-anchor="end">160</text>
</g>
<g>
<rect x="589.24" y="59.98" width="8.92" height="42.02" fill="#1f77b4"/>
<rect x="606.98" y="77.01" width="8.92" height="24.99" fill="#1f77b4"/>
<rect x="633.6" y="81.98" width="8.92" height="20.02" fill="#1f77b4"/>
<rect x="651.35" y="87.61" width="8.92" height="14.39" fill="#1f77b4"/>
<rect x="669.09" y="94.61" width="8.92" height="7.39" fill="#1f77b4"/>
<path d="M600.33 58V102M611.42 58V102M633.6 58V102M644.69 58V102M666.87 58V102M677.96 58V102M584.8 85H682.4M584.8 76.5H682.4M584.8 59.5H682.4" stroke="#9a9a9a" stroke-width="0.5" opacity="0.3" fill="none"/>
<path d="M589.24 58V102M622.51 58V102M655.78 58V102M584.8 93.5H682.4M584.8 68H682.4" stroke="#9a9a9a" stroke-width="0.5" opacity="0.8" fill="none"/>
<rect x="584.8" y="58" width="97.6" height="44" fill="none" stroke="#585858" stroke-width="0.7"/>
<path d="M589.24 102v1.2M600.33 102v1.2M611.42 102v1.2M622.51 102v1.2M633.6 102v1.2M644.69 102v1.2M655.78 102v1.2M666.87 102v1.2M677.96 102v1.2M584.8 102h-1.2M584.8 93.5h-1.2M584.8 85h-1.2M584.8 76.5h-1.2M584.8 68h-1.2M584.8 59.5h-1.2" stroke="#585858" stroke-width="0.4" fill="none"/>
<text class="tt" x="633.6" y="57.7" text-anchor="middle" font-size="3.4" fill="#222" stroke="#222" stroke-width="0.06">Walc</text>
<text class="tk" x="589.24" y="105.5" text-anchor="middle" font-size="2.55">1.0</text>
<text class="tk" x="600.33" y="105.5" text-anchor="middle" font-size="2.55">1.5</text>
<text class="tk" x="611.42" y="105.5" text-anchor="middle" font-size="2.55">2.0</text>
<text class="tk" x="622.51" y="105.5" text-anchor="middle" font-size="2.55">2.5</text>
<text class="tk" x="633.6" y="105.5" text-anchor="middle" font-size="2.55">3.0</text>
<text class="tk" x="644.69" y="105.5" text-anchor="middle" font-size="2.55">3.5</text>
<text class="tk" x="655.78" y="105.5" text-anchor="middle" font-size="2.55">4.0</text>
<text class="tk" x="666.87" y="105.5" text-anchor="middle" font-size="2.55">4.5</text>
<text class="tk" x="677.96" y="105.5" text-anchor="middle" font-size="2.55">5.0</text>
<text class="tk" x="583" y="103" text-anchor="end">0</text>
<text class="tk" x="583" y="94.5" text-anchor="end">50</text>
<text class="tk" x="583" y="86" text-anchor="end">100</text>
<text class="tk" x="583" y="77.5" text-anchor="end">150</text>
<text class="tk" x="583" y="69" text-anchor="end">200</text>
<text class="tk" x="583" y="60.5" text-anchor="end">250</text>
</g>
<g>
<rect x="373.03" y="140.04" width="8.9" height="14.96" fill="#1f77b4"/>
<rect x="390.74" y="141.58" width="8.9" height="13.42" fill="#1f77b4"/>
<rect x="417.3" y="134.41" width="8.9" height="20.59" fill="#1f77b4"/>
<rect x="435.01" y="137" width="8.9" height="18" fill="#1f77b4"/>
<rect x="452.72" y="112.98" width="8.9" height="42.02" fill="#1f77b4"/>
<path d="M384.1 111V155M395.16 111V155M417.3 111V155M428.37 111V155M450.5 111V155M461.57 111V155M368.6 146.6H466M368.6 138.2H466M368.6 121.4H466M368.6 113H466" stroke="#9a9a9a" stroke-width="0.5" opacity="0.3" fill="none"/>
<path d="M373.03 111V155M406.23 111V155M439.44 111V155M368.6 129.8H466" stroke="#9a9a9a" stroke-width="0.5" opacity="0.8" fill="none"/>
<rect x="368.6" y="111" width="97.4" height="44" fill="none" stroke="#585858" stroke-width="0.7"/>
<path d="M373.03 155v1.2M384.1 155v1.2M395.16 155v1.2M406.23 155v1.2M417.3 155v1.2M428.37 155v1.2M439.44 155v1.2M450.5 155v1.2M461.57 155v1.2M368.6 155h-1.2M368.6 146.6h-1.2M368.6 138.2h-1.2M368.6 129.8h-1.2M368.6 121.4h-1.2M368.6 113h-1.2" stroke="#585858" stroke-width="0.4" fill="none"/>
<text class="tt" x="417.3" y="110.7" text-anchor="middle" font-size="3.4" fill="#222" stroke="#222" stroke-width="0.06">health</text>
<text class="tk" x="373.03" y="158.5" text-anchor="middle" font-size="2.55">1.0</text>
<text class="tk" x="384.1" y="158.5" text-anchor="middle" font-size="2.55">1.5</text>
<text class="tk" x="395.16" y="158.5" text-anchor="middle" font-size="2.55">2.0</text>
<text class="tk" x="406.23" y="158.5" text-anchor="middle" font-size="2.55">2.5</text>
<text class="tk" x="417.3" y="158.5" text-anchor="middle" font-size="2.55">3.0</text>
<text class="tk" x="428.37" y="158.5" text-anchor="middle" font-size="2.55">3.5</text>
<text class="tk" x="439.44" y="158.5" text-anchor="middle" font-size="2.55">4.0</text>
<text class="tk" x="450.5" y="158.5" text-anchor="middle" font-size="2.55">4.5</text>
<text class="tk" x="461.57" y="158.5" text-anchor="middle" font-size="2.55">5.0</text>
<text class="tk" x="366.8" y="156" text-anchor="end">0</text>
<text class="tk" x="366.8" y="147.6" text-anchor="end">50</text>
<text class="tk" x="366.8" y="139.2" text-anchor="end">100</text>
<text class="tk" x="366.8" y="130.8" text-anchor="end">150</text>
<text class="tk" x="366.8" y="122.4" text-anchor="end">200</text>
<text class="tk" x="366.8" y="114" text-anchor="end">250</text>
</g>
<g>
<rect x="481.03" y="112.98" width="8.9" height="42.02" fill="#1f77b4"/>
<rect x="489.88" y="138.02" width="8.9" height="16.98" fill="#1f77b4"/>
<rect x="498.74" y="149.41" width="8.9" height="5.59" fill="#1f77b4"/>
<rect x="507.59" y="151.04" width="8.9" height="3.96" fill="#1f77b4"/>
<rect x="516.45" y="153.42" width="8.9" height="1.58" fill="#1f77b4"/>
<rect x="525.3" y="153.42" width="8.9" height="1.58" fill="#1f77b4"/>
<rect x="534.15" y="154" width="8.85" height="0.9" fill="#1f77b4" opacity="0.6"/>
<rect x="560.72" y="154" width="8.85" height="0.9" fill="#1f77b4" opacity="0.6"/>
<path d="M481.03 111V155M508.54 111V155M522.29 111V155M549.8 111V155M563.56 111V155M476.6 143.6H574M476.6 137.9H574M476.6 126.5H574M476.6 120.8H574" stroke="#9a9a9a" stroke-width="0.5" opacity="0.3" fill="none"/>
<path d="M494.78 111V155M536.05 111V155M476.6 149.3H574M476.6 132.2H574M476.6 115.1H574" stroke="#9a9a9a" stroke-width="0.5" opacity="0.8" fill="none"/>
<rect x="476.6" y="111" width="97.4" height="44" fill="none" stroke="#585858" stroke-width="0.7"/>
<path d="M481.03 155v1.2M494.78 155v1.2M508.54 155v1.2M522.29 155v1.2M536.05 155v1.2M549.8 155v1.2M563.56 155v1.2M476.6 155h-1.2M476.6 149.3h-1.2M476.6 143.6h-1.2M476.6 137.9h-1.2M476.6 132.2h-1.2M476.6 126.5h-1.2M476.6 120.8h-1.2M476.6 115.1h-1.2" stroke="#585858" stroke-width="0.4" fill="none"/>
<text class="tt" x="525.3" y="110.7" text-anchor="middle" font-size="3.4" fill="#222" stroke="#222" stroke-width="0.06">absences</text>
<text class="tk" x="481.03" y="158.5" text-anchor="middle" font-size="2.55">0</text>
<text class="tk" x="494.78" y="158.5" text-anchor="middle" font-size="2.55">10</text>
<text class="tk" x="508.54" y="158.5" text-anchor="middle" font-size="2.55">20</text>
<text class="tk" x="522.29" y="158.5" text-anchor="middle" font-size="2.55">30</text>
<text class="tk" x="536.05" y="158.5" text-anchor="middle" font-size="2.55">40</text>
<text class="tk" x="549.8" y="158.5" text-anchor="middle" font-size="2.55">50</text>
<text class="tk" x="563.56" y="158.5" text-anchor="middle" font-size="2.55">60</text>
<text class="tk" x="474.8" y="156" text-anchor="end">0</text>
<text class="tk" x="474.8" y="150.3" text-anchor="end">50</text>
<text class="tk" x="474.8" y="144.6" text-anchor="end">100</text>
<text class="tk" x="474.8" y="138.9" text-anchor="end">150</text>
<text class="tk" x="474.8" y="133.2" text-anchor="end">200</text>
<text class="tk" x="474.8" y="127.5" text-anchor="end">250</text>
<text class="tk" x="474.8" y="121.8" text-anchor="end">300</text>
<text class="tk" x="474.8" y="116.1" text-anchor="end">350</text>
</g>
<g>
<rect x="589.24" y="154" width="8.87" height="0.9" fill="#1f77b4" opacity="0.6"/>
<rect x="606.98" y="153.68" width="8.92" height="1.32" fill="#1f77b4"/>
<rect x="615.85" y="145.58" width="8.92" height="9.42" fill="#1f77b4"/>
<rect x="624.73" y="130.58" width="8.92" height="24.42" fill="#1f77b4"/>
<rect x="633.6" y="112.98" width="8.92" height="42.02" fill="#1f77b4"/>
<rect x="642.47" y="120.02" width="8.92" height="34.98" fill="#1f77b4"/>
<rect x="651.35" y="130.58" width="8.92" height="24.42" fill="#1f77b4"/>
<rect x="660.22" y="146.42" width="8.92" height="8.58" fill="#1f77b4"/>
<rect x="669.09" y="152.58" width="8.92" height="2.42" fill="#1f77b4"/>
<path d="M589.24 111V155M600.87 111V155M624.12 111V155M635.75 111V155M659.01 111V155M670.64 111V155M584.8 149.3H682.4M584.8 137.9H682.4M584.8 132.2H682.4M584.8 120.8H682.4M584.8 115.1H682.4" stroke="#9a9a9a" stroke-width="0.5" opacity="0.3" fill="none"/>
<path d="M612.49 111V155M647.38 111V155M584.8 143.6H682.4M584.8 126.5H682.4" stroke="#9a9a9a" stroke-width="0.5" opacity="0.8" fill="none"/>
<rect x="584.8" y="111" width="97.6" height="44" fill="none" stroke="#585858" stroke-width="0.7"/>
<path d="M589.24 155v1.2M600.87 155v1.2M612.49 155v1.2M624.12 155v1.2M635.75 155v1.2M647.38 155v1.2M659.01 155v1.2M670.64 155v1.2M584.8 155h-1.2M584.8 149.3h-1.2M584.8 143.6h-1.2M584.8 137.9h-1.2M584.8 132.2h-1.2M584.8 126.5h-1.2M584.8 120.8h-1.2M584.8 115.1h-1.2" stroke="#585858" stroke-width="0.4" fill="none"/>
<text class="tt" x="633.6" y="110.7" text-anchor="middle" font-size="3.4" fill="#222" stroke="#222" stroke-width="0.06">G1</text>
<text class="tk" x="589.24" y="158.5" text-anchor="middle" font-size="2.55">0.0</text>
<text class="tk" x="600.87" y="158.5" text-anchor="middle" font-size="2.55">2.5</text>
<text class="tk" x="612.49" y="158.5" text-anchor="middle" font-size="2.55">5.0</text>
<text class="tk" x="624.12" y="158.5" text-anchor="middle" font-size="2.55">7.5</text>
<text class="tk" x="635.75" y="158.5" text-anchor="middle" font-size="2.55">10.0</text>
<text class="tk" x="647.38" y="158.5" text-anchor="middle" font-size="2.55">12.5</text>
<text class="tk" x="659.01" y="158.5" text-anchor="middle" font-size="2.55">15.0</text>
<text class="tk" x="670.64" y="158.5" text-anchor="middle" font-size="2.55">17.5</text>
<text class="tk" x="583" y="156" text-anchor="end">0</text>
<text class="tk" x="583" y="150.3" text-anchor="end">25</text>
<text class="tk" x="583" y="144.6" text-anchor="end">50</text>
<text class="tk" x="583" y="138.9" text-anchor="end">75</text>
<text class="tk" x="583" y="133.2" text-anchor="end">100</text>
<text class="tk" x="583" y="127.5" text-anchor="end">125</text>
<text class="tk" x="583" y="121.8" text-anchor="end">150</text>
<text class="tk" x="583" y="116.1" text-anchor="end">175</text>
</g>
<g>
<rect x="373.03" y="206.02" width="8.9" height="1.58" fill="#1f77b4"/>
<rect x="390.74" y="206.6" width="8.85" height="0.9" fill="#1f77b4" opacity="0.6"/>
<rect x="399.59" y="202.41" width="8.9" height="5.19" fill="#1f77b4"/>
<rect x="408.45" y="182.39" width="8.9" height="25.21" fill="#1f77b4"/>
<rect x="417.3" y="165.58" width="8.9" height="42.02" fill="#1f77b4"/>
<rect x="426.15" y="169.98" width="8.9" height="37.62" fill="#1f77b4"/>
<rect x="435.01" y="187.01" width="8.9" height="20.59" fill="#1f77b4"/>
<rect x="443.86" y="197.04" width="8.9" height="10.56" fill="#1f77b4"/>
<rect x="452.72" y="204.39" width="8.9" height="3.21" fill="#1f77b4"/>
<path d="M373.03 163.6V207.6M396.24 163.6V207.6M407.84 163.6V207.6M431.05 163.6V207.6M442.66 163.6V207.6M368.6 201.94H466M368.6 196.28H466M368.6 184.96H466M368.6 179.3H466M368.6 167.98H466" stroke="#9a9a9a" stroke-width="0.5" opacity="0.3" fill="none"/>
<path d="M384.63 163.6V207.6M419.45 163.6V207.6M454.27 163.6V207.6M368.6 190.62H466M368.6 173.64H466" stroke="#9a9a9a" stroke-width="0.5" opacity="0.8" fill="none"/>
<rect x="368.6" y="163.6" width="97.4" height="44" fill="none" stroke="#585858" stroke-width="0.7"/>
<path d="M373.03 207.6v1.2M384.63 207.6v1.2M396.24 207.6v1.2M407.84 207.6v1.2M419.45 207.6v1.2M431.05 207.6v1.2M442.66 207.6v1.2M454.27 207.6v1.2M368.6 207.6h-1.2M368.6 201.94h-1.2M368.6 196.28h-1.2M368.6 190.62h-1.2M368.6 184.96h-1.2M368.6 179.3h-1.2M368.6 173.64h-1.2M368.6 167.98h-1.2" stroke="#585858" stroke-width="0.4" fill="none"/>
<text class="tt" x="417.3" y="163.3" text-anchor="middle" font-size="3.4" fill="#222" stroke="#222" stroke-width="0.06">G2</text>
<text class="tk" x="373.03" y="211.1" text-anchor="middle" font-size="2.55">0.0</text>
<text class="tk" x="384.63" y="211.1" text-anchor="middle" font-size="2.55">2.5</text>
<text class="tk" x="396.24" y="211.1" text-anchor="middle" font-size="2.55">5.0</text>
<text class="tk" x="407.84" y="211.1" text-anchor="middle" font-size="2.55">7.5</text>
<text class="tk" x="419.45" y="211.1" text-anchor="middle" font-size="2.55">10.0</text>
<text class="tk" x="431.05" y="211.1" text-anchor="middle" font-size="2.55">12.5</text>
<text class="tk" x="442.66" y="211.1" text-anchor="middle" font-size="2.55">15.0</text>
<text class="tk" x="454.27" y="211.1" text-anchor="middle" font-size="2.55">17.5</text>
<text class="tk" x="366.8" y="208.6" text-anchor="end">0</text>
<text class="tk" x="366.8" y="202.94" text-anchor="end">25</text>
<text class="tk" x="366.8" y="197.28" text-anchor="end">50</text>
<text class="tk" x="366.8" y="191.62" text-anchor="end">75</text>
<text class="tk" x="366.8" y="185.96" text-anchor="end">100</text>
<text class="tk" x="366.8" y="180.3" text-anchor="end">125</text>
<text class="tk" x="366.8" y="174.64" text-anchor="end">150</text>
<text class="tk" x="366.8" y="168.98" text-anchor="end">175</text>
</g>
<g>
<rect x="481.03" y="203.99" width="8.9" height="3.61" fill="#1f77b4"/>
<rect x="498.74" y="206.6" width="8.85" height="0.9" fill="#1f77b4" opacity="0.35"/>
<rect x="507.59" y="205.4" width="8.9" height="2.2" fill="#1f77b4"/>
<rect x="516.45" y="192.99" width="8.9" height="14.61" fill="#1f77b4"/>
<rect x="525.3" y="165.58" width="8.9" height="42.02" fill="#1f77b4"/>
<rect x="534.15" y="175.04" width="8.9" height="32.56" fill="#1f77b4"/>
<rect x="543.01" y="184.41" width="8.9" height="23.19" fill="#1f77b4"/>
<rect x="551.86" y="194.4" width="8.9" height="13.2" fill="#1f77b4"/>
<rect x="560.72" y="203.99" width="8.9" height="3.61" fill="#1f77b4"/>
<path d="M481.03 163.6V207.6M504.24 163.6V207.6M515.84 163.6V207.6M539.05 163.6V207.6M550.66 163.6V207.6M476.6 197.2H574M476.6 192H574M476.6 181.6H574M476.6 176.4H574M476.6 166H574" stroke="#9a9a9a" stroke-width="0.5" opacity="0.3" fill="none"/>
<path d="M492.63 163.6V207.6M527.45 163.6V207.6M562.27 163.6V207.6M476.6 202.4H574M476.6 186.8H574M476.6 171.2H574" stroke="#9a9a9a" stroke-width="0.5" opacity="0.8" fill="none"/>
<rect x="476.6" y="163.6" width="97.4" height="44" fill="none" stroke="#585858" stroke-width="0.7"/>
<path d="M481.03 207.6v1.2M492.63 207.6v1.2M504.24 207.6v1.2M515.84 207.6v1.2M527.45 207.6v1.2M539.05 207.6v1.2M550.66 207.6v1.2M562.27 207.6v1.2M476.6 207.6h-1.2M476.6 202.4h-1.2M476.6 197.2h-1.2M476.6 192h-1.2M476.6 186.8h-1.2M476.6 181.6h-1.2M476.6 176.4h-1.2M476.6 171.2h-1.2M476.6 166h-1.2" stroke="#585858" stroke-width="0.4" fill="none"/>
<text class="tt" x="525.3" y="163.3" text-anchor="middle" font-size="3.4" fill="#222" stroke="#222" stroke-width="0.06">G3</text>
<text class="tk" x="481.03" y="211.1" text-anchor="middle" font-size="2.55">0.0</text>
<text class="tk" x="492.63" y="211.1" text-anchor="middle" font-size="2.55">2.5</text>
<text class="tk" x="504.24" y="211.1" text-anchor="middle" font-size="2.55">5.0</text>
<text class="tk" x="515.84" y="211.1" text-anchor="middle" font-size="2.55">7.5</text>
<text class="tk" x="527.45" y="211.1" text-anchor="middle" font-size="2.55">10.0</text>
<text class="tk" x="539.05" y="211.1" text-anchor="middle" font-size="2.55">12.5</text>
<text class="tk" x="550.66" y="211.1" text-anchor="middle" font-size="2.55">15.0</text>
<text class="tk" x="562.27" y="211.1" text-anchor="middle" font-size="2.55">17.5</text>
<text class="tk" x="474.8" y="208.6" text-anchor="end">0</text>
<text class="tk" x="474.8" y="203.4" text-anchor="end">20</text>
<text class="tk" x="474.8" y="198.2" text-anchor="end">40</text>
<text class="tk" x="474.8" y="193" text-anchor="end">60</text>
<text class="tk" x="474.8" y="187.8" text-anchor="end">80</text>
<text class="tk" x="474.8" y="182.6" text-anchor="end">100</text>
<text class="tk" x="474.8" y="177.4" text-anchor="end">120</text>
<text class="tk" x="474.8" y="172.2" text-anchor="end">140</text>
<text class="tk" x="474.8" y="167" text-anchor="end">160</text>
</g>
</g>
<g filter="url(#softer)" font-size="2.8" fill="#777">
<g>
<rect x="146.85" y="328.97" width="11.74" height="1.63" fill="#1f77b4"/>
<rect x="170.23" y="283.4" width="11.74" height="47.2" fill="#1f77b4"/>
<rect x="205.3" y="268.99" width="11.74" height="61.61" fill="#1f77b4"/>
<rect x="228.68" y="284.96" width="11.74" height="45.64" fill="#1f77b4"/>
<rect x="252.06" y="273.03" width="11.74" height="57.57" fill="#1f77b4"/>
<path d="M146.85 265.4V330.6M161.46 265.4V330.6M190.69 265.4V330.6M205.3 265.4V330.6M234.53 265.4V330.6M249.14 265.4V330.6M141 322.4H269.6M141 314.2H269.6M141 297.8H269.6M141 289.6H269.6M141 273.2H269.6" stroke="#bdbdbd" stroke-width="0.5" opacity="0.24" fill="none"/>
<path d="M176.07 265.4V330.6M219.91 265.4V330.6M263.75 265.4V330.6M141 306H269.6M141 281.4H269.6" stroke="#bdbdbd" stroke-width="0.5" opacity="0.64" fill="none"/>
<rect x="141" y="265.4" width="128.6" height="65.2" fill="none" stroke="#9a9a9a" stroke-width="0.6"/>
<path d="M146.85 330.6v1.2M161.46 330.6v1.2M176.07 330.6v1.2M190.69 330.6v1.2M205.3 330.6v1.2M219.91 330.6v1.2M234.53 330.6v1.2M249.14 330.6v1.2M263.75 330.6v1.2M141 330.6h-1.2M141 322.4h-1.2M141 314.2h-1.2M141 306h-1.2M141 297.8h-1.2M141 289.6h-1.2M141 281.4h-1.2M141 273.2h-1.2" stroke="#9a9a9a" stroke-width="0.4" fill="none"/>
<text class="tt" x="205.3" y="265.1" text-anchor="middle" font-size="2.8" fill="#555" stroke="#555" stroke-width="0">MotherEd</text>
<text class="tk" x="146.85" y="334.1" text-anchor="middle" font-size="2.38">0.00</text>
<text class="tk" x="161.46" y="334.1" text-anchor="middle" font-size="2.38">0.50</text>
<text class="tk" x="176.07" y="334.1" text-anchor="middle" font-size="2.38">1.00</text>
<text class="tk" x="190.69" y="334.1" text-anchor="middle" font-size="2.38">1.50</text>
<text class="tk" x="205.3" y="334.1" text-anchor="middle" font-size="2.38">2.00</text>
<text class="tk" x="219.91" y="334.1" text-anchor="middle" font-size="2.38">2.50</text>
<text class="tk" x="234.53" y="334.1" text-anchor="middle" font-size="2.38">3.00</text>
<text class="tk" x="249.14" y="334.1" text-anchor="middle" font-size="2.38">3.50</text>
<text class="tk" x="263.75" y="334.1" text-anchor="middle" font-size="2.38">4.00</text>
<text class="tk" x="139.2" y="331.6" text-anchor="end">0</text>
<text class="tk" x="139.2" y="323.4" text-anchor="end">2000</text>
<text class="tk" x="139.2" y="315.2" text-anchor="end">4000</text>
<text class="tk" x="139.2" y="307" text-anchor="end">6000</text>
<text class="tk" x="139.2" y="298.8" text-anchor="end">8000</text>
<text class="tk" x="139.2" y="290.6" text-anchor="end">10000</text>
<text class="tk" x="139.2" y="282.4" text-anchor="end">12000</text>
<text class="tk" x="139.2" y="274.2" text-anchor="end">14000</text>
</g>
<g>
<rect x="289.4" y="328.97" width="11.65" height="1.63" fill="#1f77b4"/>
<rect x="312.6" y="280" width="11.65" height="50.6" fill="#1f77b4"/>
<rect x="347.4" y="268.99" width="11.65" height="61.61" fill="#1f77b4"/>
<rect x="370.6" y="292" width="11.65" height="38.6" fill="#1f77b4"/>
<rect x="393.8" y="292.98" width="11.65" height="37.62" fill="#1f77b4"/>
<path d="M289.4 265.4V330.6M318.4 265.4V330.6M332.9 265.4V330.6M361.9 265.4V330.6M376.4 265.4V330.6M405.4 265.4V330.6M283.6 323.2H411.2M283.6 315.8H411.2M283.6 301H411.2M283.6 293.6H411.2M283.6 278.8H411.2M283.6 271.4H411.2" stroke="#bdbdbd" stroke-width="0.5" opacity="0.24" fill="none"/>
<path d="M303.9 265.4V330.6M347.4 265.4V330.6M390.9 265.4V330.6M283.6 308.4H411.2M283.6 286.2H411.2" stroke="#bdbdbd" stroke-width="0.5" opacity="0.64" fill="none"/>
<rect x="283.6" y="265.4" width="127.6" height="65.2" fill="none" stroke="#9a9a9a" stroke-width="0.6"/>
<path d="M289.4 330.6v1.2M303.9 330.6v1.2M318.4 330.6v1.2M332.9 330.6v1.2M347.4 330.6v1.2M361.9 330.6v1.2M376.4 330.6v1.2M390.9 330.6v1.2M405.4 330.6v1.2M283.6 330.6h-1.2M283.6 323.2h-1.2M283.6 315.8h-1.2M283.6 308.4h-1.2M283.6 301h-1.2M283.6 293.6h-1.2M283.6 286.2h-1.2M283.6 278.8h-1.2M283.6 271.4h-1.2" stroke="#9a9a9a" stroke-width="0.4" fill="none"/>
<text class="tt" x="347.4" y="265.1" text-anchor="middle" font-size="2.8" fill="#555" stroke="#555" stroke-width="0">FatherEd</text>
<text class="tk" x="289.4" y="334.1" text-anchor="middle" font-size="2.38">0.00</text>
<text class="tk" x="303.9" y="334.1" text-anchor="middle" font-size="2.38">0.50</text>
<text class="tk" x="318.4" y="334.1" text-anchor="middle" font-size="2.38">1.00</text>
<text class="tk" x="332.9" y="334.1" text-anchor="middle" font-size="2.38">1.50</text>
<text class="tk" x="347.4" y="334.1" text-anchor="middle" font-size="2.38">2.00</text>
<text class="tk" x="361.9" y="334.1" text-anchor="middle" font-size="2.38">2.50</text>
<text class="tk" x="376.4" y="334.1" text-anchor="middle" font-size="2.38">3.00</text>
<text class="tk" x="390.9" y="334.1" text-anchor="middle" font-size="2.38">3.50</text>
<text class="tk" x="405.4" y="334.1" text-anchor="middle" font-size="2.38">4.00</text>
<text class="tk" x="281.8" y="331.6" text-anchor="end">0</text>
<text class="tk" x="281.8" y="324.2" text-anchor="end">2500</text>
<text class="tk" x="281.8" y="316.8" text-anchor="end">5000</text>
<text class="tk" x="281.8" y="309.4" text-anchor="end">7500</text>
<text class="tk" x="281.8" y="302" text-anchor="end">10000</text>
<text class="tk" x="281.8" y="294.6" text-anchor="end">12500</text>
<text class="tk" x="281.8" y="287.2" text-anchor="end">15000</text>
<text class="tk" x="281.8" y="279.8" text-anchor="end">17500</text>
<text class="tk" x="281.8" y="272.4" text-anchor="end">20000</text>
</g>
<g>
<rect x="431.84" y="288.02" width="11.72" height="42.58" fill="#1f77b4"/>
<rect x="466.85" y="268.99" width="11.72" height="61.61" fill="#1f77b4"/>
<rect x="501.87" y="311.04" width="11.72" height="19.56" fill="#1f77b4"/>
<rect x="536.89" y="323.62" width="11.72" height="6.98" fill="#1f77b4"/>
<path d="M431.84 265.4V330.6M451.29 265.4V330.6M490.2 265.4V330.6M509.65 265.4V330.6M548.56 265.4V330.6M426 310.6H554.4M426 300.6H554.4M426 280.6H554.4M426 270.6H554.4" stroke="#bdbdbd" stroke-width="0.5" opacity="0.24" fill="none"/>
<path d="M470.75 265.4V330.6M529.11 265.4V330.6M426 320.6H554.4M426 290.6H554.4" stroke="#bdbdbd" stroke-width="0.5" opacity="0.64" fill="none"/>
<rect x="426" y="265.4" width="128.4" height="65.2" fill="none" stroke="#9a9a9a" stroke-width="0.6"/>
<path d="M431.84 330.6v1.2M451.29 330.6v1.2M470.75 330.6v1.2M490.2 330.6v1.2M509.65 330.6v1.2M529.11 330.6v1.2M548.56 330.6v1.2M426 330.6h-1.2M426 320.6h-1.2M426 310.6h-1.2M426 300.6h-1.2M426 290.6h-1.2M426 280.6h-1.2M426 270.6h-1.2" stroke="#9a9a9a" stroke-width="0.4" fill="none"/>
<text class="tt" x="490.2" y="265.1" text-anchor="middle" font-size="2.8" fill="#555" stroke="#555" stroke-width="0">HomeToSchoolTime</text>
<text class="tk" x="431.84" y="334.1" text-anchor="middle" font-size="2.38">1.00</text>
<text class="tk" x="451.29" y="334.1" text-anchor="middle" font-size="2.38">1.50</text>
<text class="tk" x="470.75" y="334.1" text-anchor="middle" font-size="2.38">2.00</text>
<text class="tk" x="490.2" y="334.1" text-anchor="middle" font-size="2.38">2.50</text>
<text class="tk" x="509.65" y="334.1" text-anchor="middle" font-size="2.38">3.00</text>
<text class="tk" x="529.11" y="334.1" text-anchor="middle" font-size="2.38">3.50</text>
<text class="tk" x="548.56" y="334.1" text-anchor="middle" font-size="2.38">4.00</text>
<text class="tk" x="424.2" y="331.6" text-anchor="end">0</text>
<text class="tk" x="424.2" y="321.6" text-anchor="end">5000</text>
<text class="tk" x="424.2" y="311.6" text-anchor="end">10000</text>
<text class="tk" x="424.2" y="301.6" text-anchor="end">15000</text>
<text class="tk" x="424.2" y="291.6" text-anchor="end">20000</text>
<text class="tk" x="424.2" y="281.6" text-anchor="end">25000</text>
<text class="tk" x="424.2" y="271.6" text-anchor="end">30000</text>
</g>
<g>
<rect x="146.85" y="342.61" width="11.74" height="60.99" fill="#1f77b4"/>
<rect x="181.92" y="396.02" width="11.74" height="7.58" fill="#1f77b4"/>
<rect x="216.99" y="402" width="11.74" height="1.61" fill="#1f77b4"/>
<rect x="252.06" y="402" width="11.74" height="1.61" fill="#1f77b4"/>
<path d="M166.33 339.4V403.6M185.82 339.4V403.6M224.78 339.4V403.6M244.27 339.4V403.6M141 381.4H269.6M141 370.3H269.6M141 348.1H269.6" stroke="#bdbdbd" stroke-width="0.5" opacity="0.24" fill="none"/>
<path d="M146.85 339.4V403.6M205.3 339.4V403.6M263.75 339.4V403.6M141 392.5H269.6M141 359.2H269.6" stroke="#bdbdbd" stroke-width="0.5" opacity="0.64" fill="none"/>
<rect x="141" y="339.4" width="128.6" height="64.2" fill="none" stroke="#9a9a9a" stroke-width="0.6"/>
<path d="M146.85 403.6v1.2M166.33 403.6v1.2M185.82 403.6v1.2M205.3 403.6v1.2M224.78 403.6v1.2M244.27 403.6v1.2M263.75 403.6v1.2M141 403.6h-1.2M141 392.5h-1.2M141 381.4h-1.2M141 370.3h-1.2M141 359.2h-1.2M141 348.1h-1.2" stroke="#9a9a9a" stroke-width="0.4" fill="none"/>
<text class="tt" x="205.3" y="339.1" text-anchor="middle" font-size="2.8" fill="#555" stroke="#555" stroke-width="0">PastFailures</text>
<text class="tk" x="146.85" y="407.1" text-anchor="middle" font-size="2.38">0.00</text>
<text class="tk" x="166.33" y="407.1" text-anchor="middle" font-size="2.38">0.50</text>
<text class="tk" x="185.82" y="407.1" text-anchor="middle" font-size="2.38">1.00</text>
<text class="tk" x="205.3" y="407.1" text-anchor="middle" font-size="2.38">1.50</text>
<text class="tk" x="224.78" y="407.1" text-anchor="middle" font-size="2.38">2.00</text>
<text class="tk" x="244.27" y="407.1" text-anchor="middle" font-size="2.38">2.50</text>
<text class="tk" x="263.75" y="407.1" text-anchor="middle" font-size="2.38">3.00</text>
<text class="tk" x="139.2" y="404.6" text-anchor="end">0</text>
<text class="tk" x="139.2" y="393.5" text-anchor="end">10000</text>
<text class="tk" x="139.2" y="382.4" text-anchor="end">20000</text>
<text class="tk" x="139.2" y="371.3" text-anchor="end">30000</text>
<text class="tk" x="139.2" y="360.2" text-anchor="end">40000</text>
<text class="tk" x="139.2" y="349.1" text-anchor="end">50000</text>
</g>
<g>
<rect x="289.4" y="342.61" width="11.65" height="60.99" fill="#1f77b4"/>
<rect x="312.6" y="387.61" width="11.65" height="15.99" fill="#1f77b4"/>
<rect x="347.4" y="398.01" width="11.65" height="5.59" fill="#1f77b4"/>
<rect x="370.6" y="401.61" width="11.65" height="1.99" fill="#1f77b4"/>
<rect x="393.8" y="401.61" width="11.65" height="1.99" fill="#1f77b4"/>
<path d="M303.9 339.4V403.6M318.4 339.4V403.6M347.4 339.4V403.6M361.9 339.4V403.6M390.9 339.4V403.6M405.4 339.4V403.6M283.6 390.1H411.2M283.6 376.6H411.2M283.6 349.6H411.2" stroke="#bdbdbd" stroke-width="0.5" opacity="0.24" fill="none"/>
<path d="M289.4 339.4V403.6M332.9 339.4V403.6M376.4 339.4V403.6M283.6 363.1H411.2" stroke="#bdbdbd" stroke-width="0.5" opacity="0.64" fill="none"/>
<rect x="283.6" y="339.4" width="127.6" height="64.2" fill="none" stroke="#9a9a9a" stroke-width="0.6"/>
<path d="M289.4 403.6v1.2M303.9 403.6v1.2M318.4 403.6v1.2M332.9 403.6v1.2M347.4 403.6v1.2M361.9 403.6v1.2M376.4 403.6v1.2M390.9 403.6v1.2M405.4 403.6v1.2M283.6 403.6h-1.2M283.6 390.1h-1.2M283.6 376.6h-1.2M283.6 363.1h-1.2M283.6 349.6h-1.2" stroke="#9a9a9a" stroke-width="0.4" fill="none"/>
<text class="tt" x="347.4" y="339.1" text-anchor="middle" font-size="2.8" fill="#555" stroke="#555" stroke-width="0">DayAlc</text>
<text class="tk" x="289.4" y="407.1" text-anchor="middle" font-size="2.38">1.00</text>
<text class="tk" x="303.9" y="407.1" text-anchor="middle" font-size="2.38">1.50</text>
<text class="tk" x="318.4" y="407.1" text-anchor="middle" font-size="2.38">2.00</text>
<text class="tk" x="332.9" y="407.1" text-anchor="middle" font-size="2.38">2.50</text>
<text class="tk" x="347.4" y="407.1" text-anchor="middle" font-size="2.38">3.00</text>
<text class="tk" x="361.9" y="407.1" text-anchor="middle" font-size="2.38">3.50</text>
<text class="tk" x="376.4" y="407.1" text-anchor="middle" font-size="2.38">4.00</text>
<text class="tk" x="390.9" y="407.1" text-anchor="middle" font-size="2.38">4.50</text>
<text class="tk" x="405.4" y="407.1" text-anchor="middle" font-size="2.38">5.00</text>
<text class="tk" x="281.8" y="404.6" text-anchor="end">0</text>
<text class="tk" x="281.8" y="391.1" text-anchor="end">10000</text>
<text class="tk" x="281.8" y="377.6" text-anchor="end">20000</text>
<text class="tk" x="281.8" y="364.1" text-anchor="end">30000</text>
<text class="tk" x="281.8" y="350.6" text-anchor="end">40000</text>
</g>
<g>
<rect x="431.84" y="342.61" width="11.72" height="60.99" fill="#1f77b4"/>
<rect x="455.18" y="367.01" width="11.72" height="36.59" fill="#1f77b4"/>
<rect x="490.2" y="374" width="11.72" height="29.6" fill="#1f77b4"/>
<rect x="513.55" y="382.61" width="11.72" height="20.99" fill="#1f77b4"/>
<rect x="536.89" y="392.62" width="11.72" height="10.98" fill="#1f77b4"/>
<path d="M431.84 339.4V403.6M446.43 339.4V403.6M475.61 339.4V403.6M490.2 339.4V403.6M519.38 339.4V403.6M533.97 339.4V403.6M426 391.3H554.4M426 379H554.4M426 354.4H554.4M426 342.1H554.4" stroke="#bdbdbd" stroke-width="0.5" opacity="0.24" fill="none"/>
<path d="M461.02 339.4V403.6M504.79 339.4V403.6M548.56 339.4V403.6M426 366.7H554.4" stroke="#bdbdbd" stroke-width="0.5" opacity="0.64" fill="none"/>
<rect x="426" y="339.4" width="128.4" height="64.2" fill="none" stroke="#9a9a9a" stroke-width="0.6"/>
<path d="M431.84 403.6v1.2M446.43 403.6v1.2M461.02 403.6v1.2M475.61 403.6v1.2M490.2 403.6v1.2M504.79 403.6v1.2M519.38 403.6v1.2M533.97 403.6v1.2M548.56 403.6v1.2M426 403.6h-1.2M426 391.3h-1.2M426 379h-1.2M426 366.7h-1.2M426 354.4h-1.2M426 342.1h-1.2" stroke="#9a9a9a" stroke-width="0.4" fill="none"/>
<text class="tt" x="490.2" y="339.1" text-anchor="middle" font-size="2.8" fill="#555" stroke="#555" stroke-width="0">WkndAlc</text>
<text class="tk" x="431.84" y="407.1" text-anchor="middle" font-size="2.38">1.00</text>
<text class="tk" x="446.43" y="407.1" text-anchor="middle" font-size="2.38">1.50</text>
<text class="tk" x="461.02" y="407.1" text-anchor="middle" font-size="2.38">2.00</text>
<text class="tk" x="475.61" y="407.1" text-anchor="middle" font-size="2.38">2.50</text>
<text class="tk" x="490.2" y="407.1" text-anchor="middle" font-size="2.38">3.00</text>
<text class="tk" x="504.79" y="407.1" text-anchor="middle" font-size="2.38">3.50</text>
<text class="tk" x="519.38" y="407.1" text-anchor="middle" font-size="2.38">4.00</text>
<text class="tk" x="533.97" y="407.1" text-anchor="middle" font-size="2.38">4.50</text>
<text class="tk" x="548.56" y="407.1" text-anchor="middle" font-size="2.38">5.00</text>
<text class="tk" x="424.2" y="404.6" text-anchor="end">0</text>
<text class="tk" x="424.2" y="392.3" text-anchor="end">5000</text>
<text class="tk" x="424.2" y="380" text-anchor="end">10000</text>
<text class="tk" x="424.2" y="367.7" text-anchor="end">15000</text>
<text class="tk" x="424.2" y="355.4" text-anchor="end">20000</text>
<text class="tk" x="424.2" y="343.1" text-anchor="end">25000</text>
</g>
<g>
<rect x="146.85" y="476" width="11.69" height="0.9" fill="#1f77b4" opacity="0.6"/>
<rect x="170.23" y="475.07" width="11.74" height="1.93" fill="#1f77b4"/>
<rect x="181.92" y="464.12" width="11.74" height="12.88" fill="#1f77b4"/>
<rect x="193.61" y="442.61" width="11.74" height="34.39" fill="#1f77b4"/>
<rect x="205.3" y="415.82" width="11.74" height="61.18" fill="#1f77b4"/>
<rect x="216.99" y="426.57" width="11.74" height="50.43" fill="#1f77b4"/>
<rect x="228.68" y="442.61" width="11.74" height="34.39" fill="#1f77b4"/>
<rect x="240.37" y="465.02" width="11.74" height="11.98" fill="#1f77b4"/>
<rect x="252.06" y="475.07" width="11.74" height="1.93" fill="#1f77b4"/>
<path d="M146.85 412.6V477M162.17 412.6V477M192.81 412.6V477M208.14 412.6V477M238.78 412.6V477M254.11 412.6V477M141 468.8H269.6M141 460.6H269.6M141 444.2H269.6M141 436H269.6M141 419.6H269.6" stroke="#bdbdbd" stroke-width="0.5" opacity="0.24" fill="none"/>
<path d="M177.49 412.6V477M223.46 412.6V477M141 452.4H269.6M141 427.8H269.6" stroke="#bdbdbd" stroke-width="0.5" opacity="0.64" fill="none"/>
<rect x="141" y="412.6" width="128.6" height="64.4" fill="none" stroke="#9a9a9a" stroke-width="0.6"/>
<path d="M146.85 477v1.2M162.17 477v1.2M177.49 477v1.2M192.81 477v1.2M208.14 477v1.2M223.46 477v1.2M238.78 477v1.2M254.11 477v1.2M141 477h-1.2M141 468.8h-1.2M141 460.6h-1.2M141 452.4h-1.2M141 444.2h-1.2M141 436h-1.2M141 427.8h-1.2M141 419.6h-1.2" stroke="#9a9a9a" stroke-width="0.4" fill="none"/>
<text class="tt" x="205.3" y="412.3" text-anchor="middle" font-size="2.8" fill="#555" stroke="#555" stroke-width="0">G1</text>
<text class="tk" x="146.85" y="480.5" text-anchor="middle" font-size="2.38">0.00</text>
<text class="tk" x="162.17" y="480.5" text-anchor="middle" font-size="2.38">2.50</text>
<text class="tk" x="177.49" y="480.5" text-anchor="middle" font-size="2.38">5.00</text>
<text class="tk" x="192.81" y="480.5" text-anchor="middle" font-size="2.38">7.50</text>
<text class="tk" x="208.14" y="480.5" text-anchor="middle" font-size="2.38">10.00</text>
<text class="tk" x="223.46" y="480.5" text-anchor="middle" font-size="2.38">12.50</text>
<text class="tk" x="238.78" y="480.5" text-anchor="middle" font-size="2.38">15.00</text>
<text class="tk" x="254.11" y="480.5" text-anchor="middle" font-size="2.38">17.50</text>
<text class="tk" x="139.2" y="478" text-anchor="end">0</text>
<text class="tk" x="139.2" y="469.8" text-anchor="end">2500</text>
<text class="tk" x="139.2" y="461.6" text-anchor="end">5000</text>
<text class="tk" x="139.2" y="453.4" text-anchor="end">7500</text>
<text class="tk" x="139.2" y="445.2" text-anchor="end">10000</text>
<text class="tk" x="139.2" y="437" text-anchor="end">12500</text>
<text class="tk" x="139.2" y="428.8" text-anchor="end">15000</text>
<text class="tk" x="139.2" y="420.6" text-anchor="end">17500</text>
</g>
<g>
<rect x="289.4" y="475.07" width="11.65" height="1.93" fill="#1f77b4"/>
<rect x="312.6" y="476" width="11.6" height="0.9" fill="#1f77b4" opacity="0.35"/>
<rect x="324.2" y="469.98" width="11.65" height="7.02" fill="#1f77b4"/>
<rect x="335.8" y="440.61" width="11.65" height="36.39" fill="#1f77b4"/>
<rect x="347.4" y="415.82" width="11.65" height="61.18" fill="#1f77b4"/>
<rect x="359" y="422.58" width="11.65" height="54.42" fill="#1f77b4"/>
<rect x="370.6" y="447.38" width="11.65" height="29.62" fill="#1f77b4"/>
<rect x="382.2" y="462.57" width="11.65" height="14.43" fill="#1f77b4"/>
<rect x="393.8" y="472.62" width="11.65" height="4.38" fill="#1f77b4"/>
<path d="M289.4 412.6V477M304.6 412.6V477M335.01 412.6V477M350.22 412.6V477M380.62 412.6V477M395.83 412.6V477M283.6 460.6H411.2M283.6 452.4H411.2M283.6 436H411.2M283.6 427.8H411.2" stroke="#bdbdbd" stroke-width="0.5" opacity="0.24" fill="none"/>
<path d="M319.81 412.6V477M365.42 412.6V477M283.6 468.8H411.2M283.6 444.2H411.2M283.6 419.6H411.2" stroke="#bdbdbd" stroke-width="0.5" opacity="0.64" fill="none"/>
<rect x="283.6" y="412.6" width="127.6" height="64.4" fill="none" stroke="#9a9a9a" stroke-width="0.6"/>
<path d="M289.4 477v1.2M304.6 477v1.2M319.81 477v1.2M335.01 477v1.2M350.22 477v1.2M365.42 477v1.2M380.62 477v1.2M395.83 477v1.2M283.6 477h-1.2M283.6 468.8h-1.2M283.6 460.6h-1.2M283.6 452.4h-1.2M283.6 444.2h-1.2M283.6 436h-1.2M283.6 427.8h-1.2M283.6 419.6h-1.2" stroke="#9a9a9a" stroke-width="0.4" fill="none"/>
<text class="tt" x="347.4" y="412.3" text-anchor="middle" font-size="2.8" fill="#555" stroke="#555" stroke-width="0">G2</text>
<text class="tk" x="289.4" y="480.5" text-anchor="middle" font-size="2.38">0.00</text>
<text class="tk" x="304.6" y="480.5" text-anchor="middle" font-size="2.38">2.50</text>
<text class="tk" x="319.81" y="480.5" text-anchor="middle" font-size="2.38">5.00</text>
<text class="tk" x="335.01" y="480.5" text-anchor="middle" font-size="2.38">7.50</text>
<text class="tk" x="350.22" y="480.5" text-anchor="middle" font-size="2.38">10.00</text>
<text class="tk" x="365.42" y="480.5" text-anchor="middle" font-size="2.38">12.50</text>
<text class="tk" x="380.62" y="480.5" text-anchor="middle" font-size="2.38">15.00</text>
<text class="tk" x="395.83" y="480.5" text-anchor="middle" font-size="2.38">17.50</text>
<text class="tk" x="281.8" y="478" text-anchor="end">0</text>
<text class="tk" x="281.8" y="469.8" text-anchor="end">2500</text>
<text class="tk" x="281.8" y="461.6" text-anchor="end">5000</text>
<text class="tk" x="281.8" y="453.4" text-anchor="end">7500</text>
<text class="tk" x="281.8" y="445.2" text-anchor="end">10000</text>
<text class="tk" x="281.8" y="437" text-anchor="end">12500</text>
<text class="tk" x="281.8" y="428.8" text-anchor="end">15000</text>
<text class="tk" x="281.8" y="420.6" text-anchor="end">17500</text>
</g>
<g>
<rect x="431.84" y="472.62" width="11.72" height="4.38" fill="#1f77b4"/>
<rect x="455.18" y="476" width="11.67" height="0.9" fill="#1f77b4" opacity="0.35"/>
<rect x="466.85" y="473.59" width="11.72" height="3.41" fill="#1f77b4"/>
<rect x="478.53" y="456.01" width="11.72" height="20.99" fill="#1f77b4"/>
<rect x="490.2" y="415.82" width="11.72" height="61.18" fill="#1f77b4"/>
<rect x="501.87" y="430.63" width="11.72" height="46.37" fill="#1f77b4"/>
<rect x="513.55" y="443.51" width="11.72" height="33.49" fill="#1f77b4"/>
<rect x="525.22" y="457.68" width="11.72" height="19.32" fill="#1f77b4"/>
<rect x="536.89" y="472.62" width="11.72" height="4.38" fill="#1f77b4"/>
<path d="M431.84 412.6V477M447.14 412.6V477M477.73 412.6V477M493.03 412.6V477M523.63 412.6V477M538.93 412.6V477M426 469.4H554.4M426 454.2H554.4M426 446.6H554.4M426 431.4H554.4M426 423.8H554.4" stroke="#bdbdbd" stroke-width="0.5" opacity="0.24" fill="none"/>
<path d="M462.43 412.6V477M508.33 412.6V477M426 461.8H554.4M426 439H554.4M426 416.2H554.4" stroke="#bdbdbd" stroke-width="0.5" opacity="0.64" fill="none"/>
<rect x="426" y="412.6" width="128.4" height="64.4" fill="none" stroke="#9a9a9a" stroke-width="0.6"/>
<path d="M431.84 477v1.2M447.14 477v1.2M462.43 477v1.2M477.73 477v1.2M493.03 477v1.2M508.33 477v1.2M523.63 477v1.2M538.93 477v1.2M426 477h-1.2M426 469.4h-1.2M426 461.8h-1.2M426 454.2h-1.2M426 446.6h-1.2M426 439h-1.2M426 431.4h-1.2M426 423.8h-1.2M426 416.2h-1.2" stroke="#9a9a9a" stroke-width="0.4" fill="none"/>
<text class="tt" x="490.2" y="412.3" text-anchor="middle" font-size="2.8" fill="#555" stroke="#555" stroke-width="0">G3</text>
<text class="tk" x="431.84" y="480.5" text-anchor="middle" font-size="2.38">0.00</text>
<text class="tk" x="447.14" y="480.5" text-anchor="middle" font-size="2.38">2.50</text>
<text class="tk" x="462.43" y="480.5" text-anchor="middle" font-size="2.38">5.00</text>
<text class="tk" x="477.73" y="480.5" text-anchor="middle" font-size="2.38">7.50</text>
<text class="tk" x="493.03" y="480.5" text-anchor="middle" font-size="2.38">10.00</text>
<text class="tk" x="508.33" y="480.5" text-anchor="middle" font-size="2.38">12.50</text>
<text class="tk" x="523.63" y="480.5" text-anchor="middle" font-size="2.38">15.00</text>
<text class="tk" x="538.93" y="480.5" text-anchor="middle" font-size="2.38">17.50</text>
<text class="tk" x="424.2" y="478" text-anchor="end">0</text>
<text class="tk" x="424.2" y="470.4" text-anchor="end">2000</text>
<text class="tk" x="424.2" y="462.8" text-anchor="end">4000</text>
<text class="tk" x="424.2" y="455.2" text-anchor="end">6000</text>
<text class="tk" x="424.2" y="447.6" text-anchor="end">8000</text>
<text class="tk" x="424.2" y="440" text-anchor="end">10000</text>
<text class="tk" x="424.2" y="432.4" text-anchor="end">12000</text>
<text class="tk" x="424.2" y="424.8" text-anchor="end">14000</text>
<text class="tk" x="424.2" y="417.2" text-anchor="end">16000</text>
</g>
</g>
<text class="cap" x="77.6" y="244.1">Chi-square Feature Selection</text>
<text class="cap" x="466.9" y="243.0">Information gain</text>
<text class="cap" x="274.2" y="511.0" textLength="133.8" lengthAdjust="spacingAndGlyphs">Correlation heat map</text>
</svg>
</body>
</html>
